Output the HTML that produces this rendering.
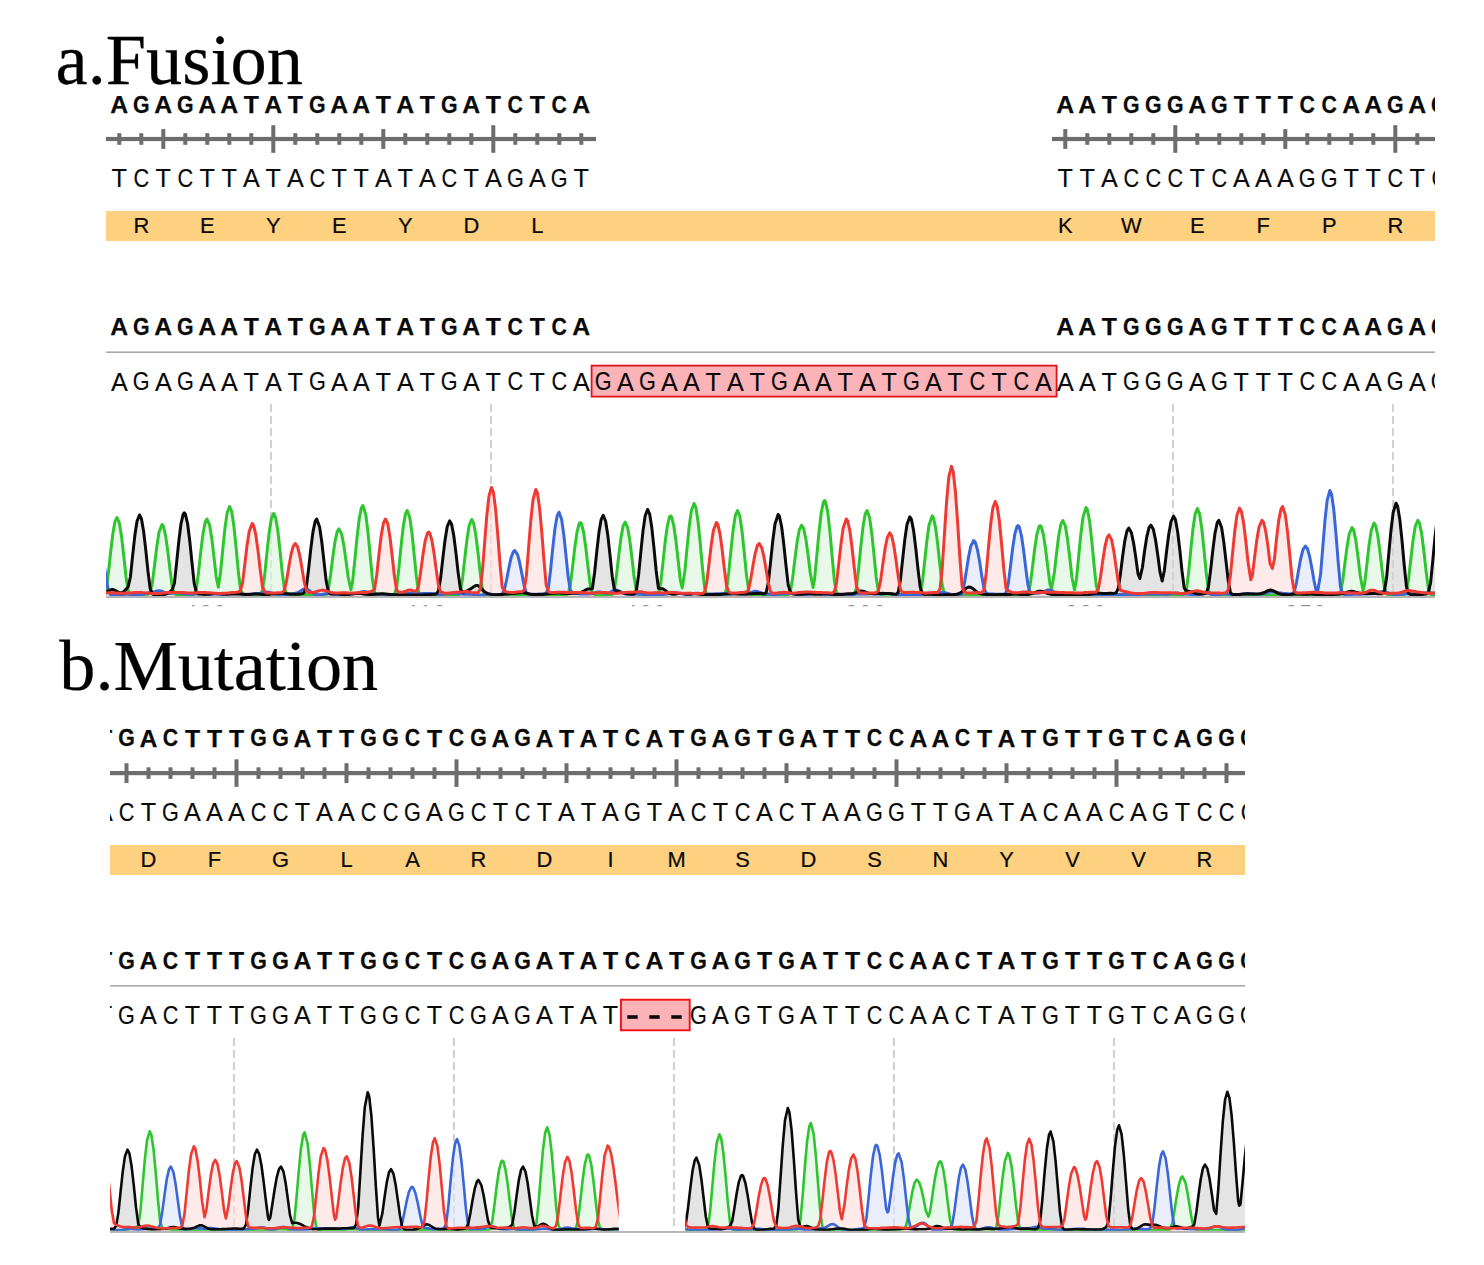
<!DOCTYPE html>
<html><head><meta charset="utf-8"><title>Sanger sequencing: fusion and mutation</title>
<style>
html,body{margin:0;padding:0;background:#fff;}
body{width:1484px;height:1265px;overflow:hidden;font-family:"Liberation Sans",sans-serif;}
svg{display:block;}
text{font-family:"Liberation Sans",sans-serif;fill:#0a0a0a;}
.ttl{font-family:"Liberation Serif",serif;font-size:71px;fill:#000;stroke:#000;stroke-width:.25px;}
.b{font-size:24.8px;font-weight:bold;text-anchor:middle;stroke:#0a0a0a;stroke-width:.25px;}
.n{font-size:25.2px;text-anchor:middle;stroke:#0a0a0a;stroke-width:.12px;}
.aa{font-size:21.9px;text-anchor:middle;stroke:#0a0a0a;stroke-width:.2px;}
.num{font-size:20px;text-anchor:middle;fill:#8a8a8a;letter-spacing:3px;}
</style></head><body>
<svg width="1484" height="1265" viewBox="0 0 1484 1265">
<defs>
<clipPath id="ca"><rect x="106" y="0" width="1329" height="606.2"/></clipPath>
<clipPath id="cat"><rect x="106" y="400" width="1329" height="196.2"/></clipPath>
<clipPath id="cb"><rect x="110" y="620" width="1135" height="640"/></clipPath>
<clipPath id="cbt"><rect x="110" y="1040" width="508.7" height="190.8"/><rect x="685.3" y="1040" width="559.7" height="190.8"/></clipPath>
</defs>
<text class="ttl" transform="translate(55.6,83.6) scale(1.02,1)">a.Fusion</text>
<g clip-path="url(#ca)">
<text class="b" x="119.3 163.3 207.3 229.3 251.3 273.3 295.3 339.3 361.3 383.3 405.3 427.3 471.3 493.3 537.3 581.3" y="112.8">AAAATATAATATATTA</text>
<text class="b" transform="scale(0.86,1)" x="164.3 215.5 369.0 522.4 599.2 650.3" y="112.8">GGGGCC</text>
<text class="b" x="1065.3 1087.3 1109.3 1197.3 1241.3 1263.3 1285.3 1351.3 1373.3 1417.3" y="112.8">AATATTTAAA</text>
<text class="b" transform="scale(0.86,1)" x="1315.5 1341.0 1366.6 1417.8 1520.1 1545.7 1622.4 1673.6" y="112.8">GGGGCCGG</text>
<rect x="106" y="136.9" width="490" height="4.2" fill="#6d6d6d"/>
<rect x="117.3" y="133.2" width="4" height="11.6" fill="#6d6d6d"/>
<rect x="139.3" y="133.2" width="4" height="11.6" fill="#6d6d6d"/>
<rect x="161.3" y="129.1" width="4" height="19.8" fill="#6d6d6d"/>
<rect x="183.3" y="133.2" width="4" height="11.6" fill="#6d6d6d"/>
<rect x="205.3" y="133.2" width="4" height="11.6" fill="#6d6d6d"/>
<rect x="227.3" y="133.2" width="4" height="11.6" fill="#6d6d6d"/>
<rect x="249.3" y="133.2" width="4" height="11.6" fill="#6d6d6d"/>
<rect x="271.3" y="125.2" width="4" height="27.6" fill="#6d6d6d"/>
<rect x="293.3" y="133.2" width="4" height="11.6" fill="#6d6d6d"/>
<rect x="315.3" y="133.2" width="4" height="11.6" fill="#6d6d6d"/>
<rect x="337.3" y="133.2" width="4" height="11.6" fill="#6d6d6d"/>
<rect x="359.3" y="133.2" width="4" height="11.6" fill="#6d6d6d"/>
<rect x="381.3" y="129.1" width="4" height="19.8" fill="#6d6d6d"/>
<rect x="403.3" y="133.2" width="4" height="11.6" fill="#6d6d6d"/>
<rect x="425.3" y="133.2" width="4" height="11.6" fill="#6d6d6d"/>
<rect x="447.3" y="133.2" width="4" height="11.6" fill="#6d6d6d"/>
<rect x="469.3" y="133.2" width="4" height="11.6" fill="#6d6d6d"/>
<rect x="491.3" y="125.2" width="4" height="27.6" fill="#6d6d6d"/>
<rect x="513.3" y="133.2" width="4" height="11.6" fill="#6d6d6d"/>
<rect x="535.3" y="133.2" width="4" height="11.6" fill="#6d6d6d"/>
<rect x="557.3" y="133.2" width="4" height="11.6" fill="#6d6d6d"/>
<rect x="579.3" y="133.2" width="4" height="11.6" fill="#6d6d6d"/>
<rect x="1052" y="136.9" width="388" height="4.2" fill="#6d6d6d"/>
<rect x="1063.3" y="129.1" width="4" height="19.8" fill="#6d6d6d"/>
<rect x="1085.3" y="133.2" width="4" height="11.6" fill="#6d6d6d"/>
<rect x="1107.3" y="133.2" width="4" height="11.6" fill="#6d6d6d"/>
<rect x="1129.3" y="133.2" width="4" height="11.6" fill="#6d6d6d"/>
<rect x="1151.3" y="133.2" width="4" height="11.6" fill="#6d6d6d"/>
<rect x="1173.3" y="125.2" width="4" height="27.6" fill="#6d6d6d"/>
<rect x="1195.3" y="133.2" width="4" height="11.6" fill="#6d6d6d"/>
<rect x="1217.3" y="133.2" width="4" height="11.6" fill="#6d6d6d"/>
<rect x="1239.3" y="133.2" width="4" height="11.6" fill="#6d6d6d"/>
<rect x="1261.3" y="133.2" width="4" height="11.6" fill="#6d6d6d"/>
<rect x="1283.3" y="129.1" width="4" height="19.8" fill="#6d6d6d"/>
<rect x="1305.3" y="133.2" width="4" height="11.6" fill="#6d6d6d"/>
<rect x="1327.3" y="133.2" width="4" height="11.6" fill="#6d6d6d"/>
<rect x="1349.3" y="133.2" width="4" height="11.6" fill="#6d6d6d"/>
<rect x="1371.3" y="133.2" width="4" height="11.6" fill="#6d6d6d"/>
<rect x="1393.3" y="125.2" width="4" height="27.6" fill="#6d6d6d"/>
<rect x="1415.3" y="133.2" width="4" height="11.6" fill="#6d6d6d"/>
<rect x="1437.3" y="133.2" width="4" height="11.6" fill="#6d6d6d"/>
<rect x="1459.3" y="133.2" width="4" height="11.6" fill="#6d6d6d"/>
<text class="n" x="119.3 163.3 207.3 229.3 251.3 273.3 295.3 339.3 361.3 383.3 405.3 427.3 471.3 493.3 537.3 581.3" y="187">TTTTATATTATATAAT</text>
<text class="n" transform="scale(0.86,1)" x="164.3 215.5 369.0 522.4 599.2 650.3" y="187">CCCCGG</text>
<text class="n" x="1065.3 1087.3 1109.3 1197.3 1241.3 1263.3 1285.3 1351.3 1373.3 1417.3" y="187">TTATAAATTT</text>
<text class="n" transform="scale(0.86,1)" x="1315.5 1341.0 1366.6 1417.8 1520.1 1545.7 1622.4 1673.6" y="187">CCCCGGCC</text>
<rect x="106" y="211" width="1340" height="30" fill="#fdd17f"/>
<text class="aa" x="141.3" y="232.9">R</text>
<text class="aa" x="207.3" y="232.9">E</text>
<text class="aa" x="273.3" y="232.9">Y</text>
<text class="aa" x="339.3" y="232.9">E</text>
<text class="aa" x="405.3" y="232.9">Y</text>
<text class="aa" x="471.3" y="232.9">D</text>
<text class="aa" x="537.3" y="232.9">L</text>
<text class="aa" x="1065.3" y="232.9">K</text>
<text class="aa" x="1131.3" y="232.9">W</text>
<text class="aa" x="1197.3" y="232.9">E</text>
<text class="aa" x="1263.3" y="232.9">F</text>
<text class="aa" x="1329.3" y="232.9">P</text>
<text class="aa" x="1395.3" y="232.9">R</text>
<text class="b" x="119.3 163.3 207.3 229.3 251.3 273.3 295.3 339.3 361.3 383.3 405.3 427.3 471.3 493.3 537.3 581.3" y="334.8">AAAATATAATATATTA</text>
<text class="b" transform="scale(0.86,1)" x="164.3 215.5 369.0 522.4 599.2 650.3" y="334.8">GGGGCC</text>
<text class="b" x="1065.3 1087.3 1109.3 1197.3 1241.3 1263.3 1285.3 1351.3 1373.3 1417.3" y="334.8">AATATTTAAA</text>
<text class="b" transform="scale(0.86,1)" x="1315.5 1341.0 1366.6 1417.8 1520.1 1545.7 1622.4 1673.6" y="334.8">GGGGCCGG</text>
<rect x="106" y="351.4" width="1340" height="1.6" fill="#a9a9a9"/>
<rect x="591.6" y="365.6" width="465" height="31" fill="#fbb3b8" stroke="#e01318" stroke-width="1.8"/>
<text class="n" x="119.3 163.3 207.3 229.3 251.3 273.3 295.3 339.3 361.3 383.3 405.3 427.3 471.3 493.3 537.3 581.3 625.3 669.3 691.3 713.3 735.3 757.3 801.3 823.3 845.3 867.3 889.3 933.3 955.3 999.3 1043.3 1065.3 1087.3 1109.3 1197.3 1241.3 1263.3 1285.3 1351.3 1373.3 1417.3" y="390.5">AAAATATAATATATTAAAATATAATATATTAAATATTTAAA</text>
<text class="n" transform="scale(0.86,1)" x="164.3 215.5 369.0 522.4 599.2 650.3 701.5 752.7 906.2 1059.7 1136.4 1187.6 1315.5 1341.0 1366.6 1417.8 1520.1 1545.7 1622.4 1673.6" y="390.5">GGGGCCGGGGCCGGGGCCGG</text>
<line x1="271" y1="404" x2="271" y2="596" stroke="#cbcbcb" stroke-width="1.8" stroke-dasharray="8 4"/>
<line x1="491" y1="404" x2="491" y2="596" stroke="#cbcbcb" stroke-width="1.8" stroke-dasharray="8 4"/>
<line x1="1173" y1="404" x2="1173" y2="596" stroke="#cbcbcb" stroke-width="1.8" stroke-dasharray="8 4"/>
<line x1="1393" y1="404" x2="1393" y2="596" stroke="#cbcbcb" stroke-width="1.8" stroke-dasharray="8 4"/>
</g>
<g clip-path="url(#cat)">
<defs>
<path id="catA" d="M60.0,595.1L62.2,595.0L64.4,595.0L66.6,595.0L68.8,595.1L71.0,595.2L73.2,595.2L75.4,595.2L77.6,595.1L79.8,595.1L82.0,595.0L84.2,594.9L86.4,594.8L88.6,594.7L90.8,594.7L93.0,594.7L95.2,594.7L97.4,594.7L99.6,594.7L101.8,594.8L104.0,594.2L106.2,589.4L108.4,573.1L110.6,552.4L112.8,533.9L115.0,521.4L117.0,517.5L119.4,523.1L121.6,536.9L123.8,556.2L126.0,576.7L128.2,591.1L130.4,594.7L132.6,595.0L134.8,595.0L137.0,594.8L139.2,594.6L141.4,594.5L143.6,594.4L145.8,594.2L148.0,594.2L150.2,592.5L152.4,582.7L154.6,564.7L156.8,546.5L159.0,532.3L162.0,524.5L163.4,526.2L165.6,535.6L167.8,551.2L170.0,569.9L172.2,586.6L174.4,593.6L176.6,595.0L178.8,595.2L181.0,595.3L183.2,595.4L185.4,595.4L187.6,595.3L189.8,595.2L192.0,595.1L194.2,594.3L196.4,588.5L198.6,571.7L200.8,551.4L203.0,533.6L205.2,522.1L207.0,519.0L209.6,525.1L211.8,538.6L214.0,557.1L216.2,576.7L218.3,587.3L220.6,572.0L222.8,549.0L225.0,527.7L227.2,512.6L229.6,506.5L231.6,511.0L233.8,525.2L236.0,546.5L238.2,570.2L240.4,588.9L242.6,594.5L244.8,595.1L247.0,594.9L249.2,594.7L251.4,594.7L253.6,594.7L255.8,594.8L258.0,594.9L260.2,594.8L262.4,591.1L264.6,575.8L266.8,554.2L269.0,533.9L271.2,519.4L273.6,513.5L275.6,517.6L277.8,530.7L280.0,550.3L282.2,572.0L284.4,588.9L286.6,593.1L288.8,593.7L291.0,593.9L293.2,594.0L295.4,594.3L297.6,594.5L299.8,594.7L302.0,594.8L304.2,594.9L306.4,594.8L308.6,594.8L310.8,594.8L313.0,594.7L315.2,594.7L317.4,594.7L319.6,594.8L321.8,594.9L324.0,595.0L326.2,594.3L328.4,589.2L330.6,574.5L332.8,557.0L335.0,541.6L337.2,531.6L339.0,528.9L341.6,533.9L343.8,545.1L346.0,560.6L348.2,577.2L350.9,589.6L352.6,581.6L354.8,560.2L357.0,537.7L359.2,519.0L361.4,507.8L362.9,505.5L365.8,514.8L368.0,532.6L370.2,555.8L372.4,579.0L374.6,592.6L376.8,594.9L379.0,594.9L381.2,595.0L383.4,595.0L385.6,595.1L387.8,595.2L390.0,595.3L392.2,595.3L394.4,594.4L396.6,588.0L398.8,569.2L401.0,546.7L403.2,526.8L405.4,514.0L407.2,510.5L409.8,517.6L412.0,533.4L414.2,554.8L416.4,577.0L418.6,591.9L420.8,594.8L423.0,595.0L425.2,595.1L427.4,595.1L429.6,595.2L431.8,595.3L434.0,595.3L436.2,595.3L438.4,595.3L440.6,595.3L442.8,595.3L445.0,595.2L447.2,595.2L449.4,595.2L451.6,595.3L453.8,595.3L456.0,595.4L458.2,595.2L460.4,592.1L462.6,577.9L464.8,558.1L467.0,539.1L469.2,525.4L471.7,519.5L473.6,522.9L475.8,534.7L478.0,552.6L480.2,572.7L482.4,589.1L484.6,594.4L486.8,595.0L489.0,594.8L491.2,594.7L493.4,594.7L495.6,594.8L497.8,594.9L500.0,594.9L502.2,594.9L504.4,594.9L506.6,594.9L508.8,594.9L511.0,594.9L513.2,594.9L515.4,594.9L517.6,594.9L519.8,594.9L522.0,594.9L524.2,594.9L526.4,594.9L528.6,595.0L530.8,595.0L533.0,595.1L535.2,595.1L537.4,595.1L539.6,595.1L541.8,595.0L544.0,595.0L546.2,595.0L548.4,595.1L550.6,595.2L552.8,595.2L555.0,595.2L557.2,595.1L559.4,595.1L561.6,595.1L563.8,595.1L566.0,595.2L568.2,593.7L570.4,584.5L572.6,566.6L574.8,547.5L577.0,532.2L579.2,523.6L580.3,522.5L581.4,523.6L583.6,532.2L585.8,547.5L588.0,566.6L590.2,584.5L592.4,593.0L594.6,594.6L596.8,594.7L599.0,594.8L601.2,594.8L603.4,595.0L605.6,595.1L607.8,595.2L610.0,595.2L612.2,594.5L614.4,589.7L616.6,574.3L618.8,554.9L621.0,537.5L623.2,525.8L625.2,522.1L627.6,527.3L629.8,540.3L632.0,558.4L634.2,577.6L636.4,591.2L638.6,594.3L640.8,594.3L643.0,594.3L645.2,594.4L647.4,594.6L649.6,594.9L651.8,595.2L654.0,595.3L656.2,595.5L658.4,593.8L660.6,583.8L662.8,564.1L665.0,543.3L667.2,526.5L669.4,517.1L670.5,515.9L671.6,517.0L673.8,525.6L676.0,541.3L678.2,561.0L680.4,580.5L682.2,588.0L684.8,571.7L687.0,548.3L689.2,526.5L691.4,510.6L694.0,503.5L695.8,507.2L698.0,521.2L700.2,542.7L702.4,567.2L704.6,587.6L706.8,594.2L709.0,595.3L711.2,595.3L713.4,595.2L715.6,595.1L717.8,594.9L720.0,594.8L722.2,594.8L724.4,594.2L726.6,589.5L728.8,572.2L731.0,549.7L733.2,529.2L735.4,515.2L737.5,510.5L739.8,516.1L742.0,530.8L744.2,551.7L746.4,574.2L748.6,590.4L750.8,594.8L753.0,595.2L755.2,595.1L757.4,594.9L759.6,594.8L761.8,594.7L764.0,594.7L766.2,594.6L768.4,594.4L770.6,594.2L772.8,594.1L775.0,594.2L777.2,594.4L779.4,594.6L781.6,594.9L783.8,595.0L786.0,595.0L788.2,594.7L790.4,591.4L792.6,578.3L794.8,559.9L797.0,542.6L799.2,530.2L801.6,525.2L803.6,528.4L805.8,538.8L808.0,554.4L810.2,572.2L813.1,587.6L814.6,578.9L816.8,555.7L819.0,532.0L821.2,512.9L823.4,502.1L824.6,500.5L825.6,501.7L827.8,512.4L830.0,532.3L832.2,557.2L834.4,581.0L836.6,593.0L838.8,595.1L841.0,595.1L843.2,595.2L845.4,595.3L847.6,595.3L849.8,595.4L852.0,595.4L854.2,594.4L856.4,588.0L858.6,569.2L860.8,546.7L863.0,526.8L865.2,514.0L867.0,510.5L869.6,517.6L871.8,533.4L874.0,554.8L876.2,577.0L878.4,591.7L880.6,594.5L882.8,594.4L885.0,594.3L887.2,594.2L889.4,594.2L891.6,594.4L893.8,594.7L896.0,594.9L898.2,595.1L900.4,595.3L902.6,595.4L904.8,595.4L907.0,595.3L909.2,595.2L911.4,595.1L913.6,595.0L915.8,594.9L918.0,594.8L920.2,592.9L922.4,582.2L924.6,562.2L926.8,541.5L929.0,525.3L932.1,515.9L933.4,517.6L935.6,527.7L937.8,545.1L940.0,566.0L942.2,585.2L944.4,593.7L946.6,595.2L948.8,595.3L951.0,595.3L953.2,595.4L955.4,595.4L957.6,595.4L959.8,595.4L962.0,595.5L964.2,595.5L966.4,595.5L968.6,595.4L970.8,595.2L973.0,595.0L975.2,594.9L977.4,594.8L979.6,594.8L981.8,594.9L984.0,595.0L986.2,595.1L988.4,595.2L990.6,595.3L992.8,595.4L995.0,595.3L997.2,595.3L999.4,595.3L1001.6,595.3L1003.8,595.4L1006.0,595.4L1008.2,595.5L1010.4,595.5L1012.6,595.5L1014.8,595.4L1017.0,595.3L1019.2,595.2L1021.4,595.1L1023.6,595.0L1025.8,594.9L1028.0,593.4L1030.2,584.9L1032.4,567.7L1034.6,549.5L1036.8,534.7L1039.0,526.6L1040.1,525.5L1041.2,526.5L1043.4,534.6L1045.6,549.1L1047.8,567.1L1050.0,584.3L1051.5,588.9L1054.4,572.4L1056.6,552.7L1058.8,535.3L1061.0,523.8L1062.9,520.5L1065.4,526.2L1067.6,539.6L1069.8,558.0L1072.0,577.5L1074.5,590.0L1076.4,579.4L1078.6,557.0L1080.8,534.5L1083.0,517.1L1086.0,507.5L1087.4,509.7L1089.6,521.3L1091.8,540.9L1094.0,564.2L1096.2,585.1L1098.4,593.7L1100.6,595.0L1102.8,594.9L1105.0,594.8L1107.2,594.8L1109.4,594.9L1111.6,595.0L1113.8,595.0L1116.0,594.9L1118.2,594.8L1120.4,594.8L1122.6,594.7L1124.8,594.8L1127.0,594.9L1129.2,595.0L1131.4,595.2L1133.6,595.2L1135.8,595.3L1138.0,595.2L1140.2,595.1L1142.4,595.0L1144.6,594.9L1146.8,594.8L1149.0,594.8L1151.2,594.8L1153.4,594.9L1155.6,595.0L1157.8,595.1L1160.0,595.2L1162.2,595.3L1164.4,595.4L1166.6,595.4L1168.8,595.4L1171.0,595.2L1173.2,595.0L1175.4,594.9L1177.6,594.9L1179.8,595.0L1182.0,595.0L1184.2,594.4L1186.4,589.9L1188.6,572.7L1190.8,549.7L1193.0,528.5L1195.2,513.8L1197.4,508.5L1199.6,513.8L1201.8,528.5L1204.0,549.7L1206.2,572.7L1208.4,589.9L1210.6,594.3L1212.8,594.6L1215.0,594.5L1217.2,594.5L1219.4,594.5L1221.6,594.7L1223.8,594.8L1226.0,594.9L1228.2,595.0L1230.4,595.1L1232.6,595.1L1234.8,595.1L1237.0,595.0L1239.2,595.0L1241.4,595.0L1243.6,595.1L1245.8,595.2L1248.0,595.3L1250.2,595.3L1252.4,595.2L1254.6,595.1L1256.8,595.1L1259.0,595.2L1261.2,595.2L1263.4,595.1L1265.6,595.1L1267.8,595.0L1270.0,594.9L1272.2,594.9L1274.4,595.0L1276.6,595.1L1278.8,595.2L1281.0,595.2L1283.2,595.1L1285.4,595.0L1287.6,594.8L1289.8,594.8L1292.0,594.8L1294.2,594.8L1296.4,594.8L1298.6,594.7L1300.8,594.7L1303.0,594.7L1305.2,594.8L1307.4,594.9L1309.6,595.0L1311.8,595.2L1314.0,595.3L1316.2,595.3L1318.4,595.4L1320.6,595.4L1322.8,595.4L1325.0,595.4L1327.2,595.3L1329.4,595.2L1331.6,595.1L1333.8,594.9L1336.0,594.8L1338.2,594.7L1340.4,592.8L1342.6,581.7L1344.8,564.3L1347.0,547.1L1349.2,534.0L1352.0,527.5L1353.6,529.9L1355.8,540.3L1358.0,556.8L1360.2,575.5L1363.0,590.6L1364.6,584.1L1366.8,565.2L1369.0,545.7L1371.2,530.6L1374.0,523.0L1375.6,525.3L1377.8,535.6L1380.0,552.0L1382.2,571.1L1384.4,587.7L1386.6,594.0L1388.8,595.2L1391.0,595.3L1393.2,595.4L1395.4,595.4L1397.6,595.3L1399.8,595.2L1402.0,594.9L1404.2,594.5L1406.4,591.8L1408.6,578.9L1410.8,559.4L1413.0,540.5L1415.2,526.6L1417.8,520.3L1419.6,523.3L1421.8,534.7L1424.0,552.2L1426.2,572.1L1428.4,588.6L1430.6,594.4L1432.8,595.3L1435.0,595.3L1437.2,595.2L1439.4,595.2L1441.6,595.2L1443.8,595.1L1446.0,595.1L1448.2,595.1L1450.4,595.2L1452.6,595.3L1454.8,595.3L1457.0,595.3L1459.2,595.2L1461.4,595.0L1463.6,594.9L1465.8,594.9L1468.0,594.9L1470.2,595.0L1472.4,595.0L1474.6,595.0L1476.8,595.0L1479.0,595.1L1479,605 L60,605Z"/>
<path id="catC" d="M60.0,595.2L62.2,595.1L64.4,595.0L66.6,594.7L68.8,594.3L71.0,593.9L73.2,593.4L75.4,592.8L77.6,592.2L79.8,591.7L82.0,591.7L84.2,592.1L86.4,590.6L88.6,580.1L90.8,564.7L93.0,550.4L95.2,540.3L97.5,536.5L99.6,539.7L101.8,549.3L104.0,563.3L106.2,578.8L108.4,590.8L110.6,594.7L112.8,595.3L115.0,595.3L117.2,595.2L119.4,594.9L121.6,594.7L123.8,594.4L126.0,594.2L128.2,594.1L130.4,594.4L132.6,594.7L134.8,595.0L137.0,595.1L139.2,594.9L141.4,594.6L143.6,594.0L145.8,593.5L148.0,593.0L150.2,592.6L152.4,592.2L154.6,591.6L156.8,591.0L159.0,590.7L161.2,591.0L163.4,591.9L165.6,592.9L167.8,593.5L170.0,593.5L172.2,593.2L174.4,592.8L176.6,592.6L178.8,592.8L181.0,593.2L183.2,593.6L185.4,593.9L187.6,594.1L189.8,594.2L192.0,594.2L194.2,594.1L196.4,593.9L198.6,593.7L200.8,593.8L203.0,594.1L205.2,594.4L207.4,594.7L209.6,594.6L211.8,594.3L214.0,594.0L216.2,593.9L218.4,594.2L220.6,594.6L222.8,594.9L225.0,594.9L227.2,594.6L229.4,594.1L231.6,593.7L233.8,593.6L236.0,593.6L238.2,593.7L240.4,593.9L242.6,594.0L244.8,594.2L247.0,594.3L249.2,594.3L251.4,594.2L253.6,594.0L255.8,593.8L258.0,593.6L260.2,593.2L262.4,592.7L264.6,592.2L266.8,592.0L269.0,592.3L271.2,592.9L273.4,593.6L275.6,594.2L277.8,594.7L280.0,594.9L282.2,594.9L284.4,594.7L286.6,594.5L288.8,594.2L291.0,593.9L293.2,593.6L295.4,593.2L297.6,592.6L299.8,591.5L302.0,590.1L304.2,588.9L306.4,588.9L308.6,590.0L310.8,591.8L313.0,593.4L315.2,594.3L317.4,594.7L319.6,594.7L321.8,594.5L324.0,594.1L326.2,593.8L328.4,593.7L330.6,593.8L332.8,594.1L335.0,594.5L337.2,594.8L339.4,595.0L341.6,595.2L343.8,595.1L346.0,594.9L348.2,594.6L350.4,594.2L352.6,593.9L354.8,593.7L357.0,593.3L359.2,592.6L361.4,591.9L363.6,591.6L365.8,591.8L368.0,592.5L370.2,593.2L372.4,593.8L374.6,594.1L376.8,594.3L379.0,594.3L381.2,594.3L383.4,594.3L385.6,594.4L387.8,594.4L390.0,594.5L392.2,594.5L394.4,594.6L396.6,594.7L398.8,594.6L401.0,594.5L403.2,594.2L405.4,593.8L407.6,593.6L409.8,593.5L412.0,593.6L414.2,593.7L416.4,593.7L418.6,593.7L420.8,593.7L423.0,593.6L425.2,593.5L427.4,593.4L429.6,593.4L431.8,593.5L434.0,593.8L436.2,594.1L438.4,594.4L440.6,594.5L442.8,594.3L445.0,593.9L447.2,593.6L449.4,593.4L451.6,593.3L453.8,593.3L456.0,593.5L458.2,593.6L460.4,593.9L462.6,594.0L464.8,594.2L467.0,594.2L469.2,594.2L471.4,594.3L473.6,594.4L475.8,594.7L478.0,594.9L480.2,594.9L482.4,594.7L484.6,594.4L486.8,594.1L489.0,594.1L491.2,594.3L493.4,594.6L495.6,594.8L497.8,594.8L500.0,594.7L502.2,593.9L504.4,589.8L506.6,579.7L508.8,568.1L511.0,558.1L513.2,551.9L514.8,550.5L517.6,554.7L519.8,563.2L522.0,574.4L524.2,585.7L526.4,593.1L528.6,594.2L530.8,594.2L533.0,594.2L535.2,594.2L537.4,594.2L539.6,594.1L541.8,594.0L544.0,593.9L546.2,593.0L548.4,587.9L550.6,569.7L552.8,547.6L555.0,528.2L557.2,515.6L559.0,512.2L561.6,519.2L563.8,534.6L566.0,555.6L568.2,577.3L570.4,590.4L572.6,592.6L574.8,593.0L577.0,593.4L579.2,593.7L581.4,593.9L583.6,594.0L585.8,594.0L588.0,593.9L590.2,593.7L592.4,593.4L594.6,592.9L596.8,592.3L599.0,592.1L601.2,592.3L603.4,592.8L605.6,593.2L607.8,593.1L610.0,592.4L612.2,591.2L614.4,590.2L616.6,590.0L618.8,590.8L621.0,592.1L623.2,593.3L625.4,593.9L627.6,594.2L629.8,594.2L632.0,594.2L634.2,594.1L636.4,594.0L638.6,594.0L640.8,594.1L643.0,594.4L645.2,594.8L647.4,595.0L649.6,595.0L651.8,594.9L654.0,594.8L656.2,594.7L658.4,594.7L660.6,594.7L662.8,594.6L665.0,594.3L667.2,593.9L669.4,593.6L671.6,593.3L673.8,593.1L676.0,592.9L678.2,592.9L680.4,593.3L682.6,593.9L684.8,594.4L687.0,594.6L689.2,594.4L691.4,594.0L693.6,593.5L695.8,593.2L698.0,593.3L700.2,593.6L702.4,593.9L704.6,594.1L706.8,594.2L709.0,594.1L711.2,594.1L713.4,594.0L715.6,593.8L717.8,593.7L720.0,593.7L722.2,593.7L724.4,593.9L726.6,594.1L728.8,594.0L731.0,593.9L733.2,593.7L735.4,593.6L737.6,593.7L739.8,593.9L742.0,594.1L744.2,594.2L746.4,594.0L748.6,593.4L750.8,592.6L753.0,591.8L755.2,591.3L757.4,591.5L759.6,592.3L761.8,593.0L764.0,593.6L766.2,593.9L768.4,594.1L770.6,594.3L772.8,594.5L775.0,594.6L777.2,594.4L779.4,594.1L781.6,593.7L783.8,593.5L786.0,593.4L788.2,593.4L790.4,593.6L792.6,593.8L794.8,594.2L797.0,594.6L799.2,594.8L801.4,594.9L803.6,594.7L805.8,594.5L808.0,594.2L810.2,593.9L812.4,593.6L814.6,593.5L816.8,593.6L819.0,594.0L821.2,594.5L823.4,595.0L825.6,595.2L827.8,595.1L830.0,595.0L832.2,594.7L834.4,594.5L836.6,594.2L838.8,594.1L841.0,594.2L843.2,594.5L845.4,594.8L847.6,595.0L849.8,594.9L852.0,594.6L854.2,594.2L856.4,593.9L858.6,593.9L860.8,593.9L863.0,594.0L865.2,594.0L867.4,593.9L869.6,593.8L871.8,593.8L874.0,593.9L876.2,593.9L878.4,594.0L880.6,593.9L882.8,593.8L885.0,593.6L887.2,593.5L889.4,593.6L891.6,593.9L893.8,594.2L896.0,594.4L898.2,594.5L900.4,594.4L902.6,594.3L904.8,594.4L907.0,594.7L909.2,594.9L911.4,595.1L913.6,595.0L915.8,594.8L918.0,594.6L920.2,594.4L922.4,594.3L924.6,594.3L926.8,594.3L929.0,594.2L931.2,593.9L933.4,593.5L935.6,593.2L937.8,593.0L940.0,592.8L942.2,592.6L944.4,592.7L946.6,593.1L948.8,593.7L951.0,594.4L953.2,595.0L955.4,595.2L957.6,595.4L959.8,595.4L962.0,593.8L964.2,584.6L966.4,570.7L968.6,556.8L970.8,546.1L973.7,540.5L975.2,542.0L977.4,549.5L979.6,561.6L981.8,575.9L984.0,588.4L986.2,593.2L988.4,594.0L990.6,594.1L992.8,594.1L995.0,594.2L997.2,594.2L999.4,594.2L1001.6,594.3L1003.8,594.3L1006.0,592.9L1008.2,584.2L1010.4,566.9L1012.6,548.7L1014.8,534.2L1017.0,526.4L1018.0,525.5L1019.2,526.8L1021.4,535.3L1023.6,550.3L1025.8,568.5L1028.0,585.4L1030.2,592.3L1032.4,593.2L1034.6,593.2L1036.8,593.2L1039.0,593.1L1041.2,592.6L1043.4,591.8L1045.6,590.8L1047.8,589.9L1050.0,589.9L1052.2,590.8L1054.4,592.1L1056.6,593.2L1058.8,593.8L1061.0,593.8L1063.2,593.6L1065.4,593.6L1067.6,593.8L1069.8,594.1L1072.0,594.3L1074.2,594.3L1076.4,594.2L1078.6,594.2L1080.8,594.2L1083.0,594.4L1085.2,594.7L1087.4,594.8L1089.6,594.9L1091.8,594.9L1094.0,594.8L1096.2,594.8L1098.4,594.7L1100.6,594.7L1102.8,594.7L1105.0,594.7L1107.2,594.6L1109.4,594.5L1111.6,594.4L1113.8,594.3L1116.0,594.3L1118.2,594.5L1120.4,594.6L1122.6,594.6L1124.8,594.4L1127.0,594.3L1129.2,594.3L1131.4,594.5L1133.6,594.7L1135.8,594.8L1138.0,594.8L1140.2,594.6L1142.4,594.3L1144.6,594.1L1146.8,594.0L1149.0,594.0L1151.2,594.0L1153.4,593.9L1155.6,593.9L1157.8,593.9L1160.0,593.9L1162.2,594.1L1164.4,594.2L1166.6,594.2L1168.8,594.0L1171.0,593.5L1173.2,593.2L1175.4,593.1L1177.6,593.3L1179.8,593.5L1182.0,593.7L1184.2,593.8L1186.4,593.9L1188.6,594.2L1190.8,594.4L1193.0,594.5L1195.2,594.6L1197.4,594.5L1199.6,594.3L1201.8,593.9L1204.0,593.6L1206.2,593.5L1208.4,593.6L1210.6,594.0L1212.8,594.5L1215.0,594.9L1217.2,594.9L1219.4,594.5L1221.6,594.1L1223.8,593.8L1226.0,593.8L1228.2,594.1L1230.4,594.4L1232.6,594.6L1234.8,594.7L1237.0,594.7L1239.2,594.5L1241.4,594.2L1243.6,593.9L1245.8,593.6L1248.0,593.4L1250.2,593.5L1252.4,593.8L1254.6,594.1L1256.8,594.2L1259.0,594.1L1261.2,593.9L1263.4,593.5L1265.6,593.0L1267.8,592.3L1270.0,591.7L1272.2,591.4L1274.4,591.7L1276.6,592.2L1278.8,592.8L1281.0,593.1L1283.2,593.4L1285.4,593.5L1287.6,593.7L1289.8,593.9L1292.0,593.9L1294.2,591.9L1296.4,582.8L1298.6,570.1L1300.8,558.1L1303.0,549.6L1305.4,546.1L1307.4,548.5L1309.6,556.3L1311.8,567.8L1314.0,580.6L1316.2,590.8L1317.7,591.0L1320.6,574.3L1322.8,546.9L1325.0,520.1L1327.2,500.0L1329.9,490.5L1331.6,494.3L1333.8,509.8L1336.0,534.2L1338.2,562.2L1340.4,586.1L1342.6,593.6L1344.8,594.8L1347.0,594.7L1349.2,594.6L1351.4,594.4L1353.6,594.3L1355.8,594.3L1358.0,594.2L1360.2,594.2L1362.4,594.1L1364.6,594.0L1366.8,593.9L1369.0,593.8L1371.2,593.7L1373.4,593.5L1375.6,593.2L1377.8,592.6L1380.0,592.0L1382.2,591.5L1384.4,591.6L1386.6,592.3L1388.8,593.1L1391.0,593.8L1393.2,594.2L1395.4,594.4L1397.6,594.4L1399.8,594.3L1402.0,594.1L1404.2,593.9L1406.4,593.7L1408.6,593.7L1410.8,593.8L1413.0,594.0L1415.2,594.1L1417.4,593.8L1419.6,593.5L1421.8,593.1L1424.0,592.9L1426.2,593.0L1428.4,593.0L1430.6,593.1L1432.8,593.1L1435.0,593.1L1437.2,593.2L1439.4,593.3L1441.6,593.4L1443.8,593.7L1446.0,593.9L1448.2,594.1L1450.4,594.3L1452.6,594.5L1454.8,594.6L1457.0,594.6L1459.2,594.4L1461.4,594.3L1463.6,594.1L1465.8,594.0L1468.0,593.9L1470.2,593.9L1472.4,593.9L1474.6,594.0L1476.8,594.2L1479.0,594.5L1479,605 L60,605Z"/>
<path id="catG" d="M60.0,592.7L62.2,591.5L64.4,590.4L66.6,590.1L68.8,590.7L71.0,591.6L73.2,592.0L75.4,591.6L77.6,590.4L79.8,589.0L82.0,587.5L84.2,586.3L86.4,586.2L88.6,587.5L90.8,589.8L93.0,592.1L95.2,593.6L97.4,594.3L99.6,594.4L101.8,594.1L104.0,593.4L106.2,592.4L108.4,591.1L110.6,589.8L112.8,589.4L115.0,590.3L117.2,591.6L119.4,592.7L121.6,592.8L123.8,591.6L126.0,589.4L128.2,586.6L130.4,577.0L132.6,555.9L134.8,535.8L137.0,521.2L139.5,515.0L141.4,518.6L143.6,531.2L145.8,550.1L148.0,571.5L150.2,588.7L152.4,594.0L154.6,594.7L156.8,594.8L159.0,594.8L161.2,594.8L163.4,594.7L165.6,594.2L167.8,593.1L170.0,591.7L172.2,589.9L174.4,583.3L176.6,562.9L178.8,541.3L181.0,523.8L183.2,514.1L184.3,512.8L185.4,514.1L187.6,523.8L189.8,541.3L192.0,562.9L194.2,583.3L196.4,592.2L198.6,593.9L200.8,594.1L203.0,594.2L205.2,594.2L207.4,594.1L209.6,594.0L211.8,593.8L214.0,593.6L216.2,593.5L218.4,593.6L220.6,593.7L222.8,593.9L225.0,594.0L227.2,594.0L229.4,594.0L231.6,594.0L233.8,593.9L236.0,593.9L238.2,593.9L240.4,594.0L242.6,594.2L244.8,594.5L247.0,594.6L249.2,594.6L251.4,594.3L253.6,594.0L255.8,593.8L258.0,593.9L260.2,594.2L262.4,594.5L264.6,594.6L266.8,594.6L269.0,594.4L271.2,594.1L273.4,593.9L275.6,593.6L277.8,593.5L280.0,593.4L282.2,593.4L284.4,593.6L286.6,593.8L288.8,594.0L291.0,594.2L293.2,594.3L295.4,594.3L297.6,594.2L299.8,594.0L302.0,593.8L304.2,592.7L306.4,586.6L308.6,569.0L310.8,548.8L313.0,531.6L315.2,521.2L316.7,519.0L319.6,526.9L321.8,542.0L324.0,561.5L326.2,581.1L328.4,592.0L330.6,594.0L332.8,593.9L335.0,593.8L337.2,593.8L339.4,594.1L341.6,594.5L343.8,594.7L346.0,594.7L348.2,594.4L350.4,594.1L352.6,593.8L354.8,593.6L357.0,593.5L359.2,593.5L361.4,593.6L363.6,594.0L365.8,594.3L368.0,594.5L370.2,594.5L372.4,594.4L374.6,594.2L376.8,594.0L379.0,593.9L381.2,593.8L383.4,593.8L385.6,594.0L387.8,594.2L390.0,594.5L392.2,594.7L394.4,594.7L396.6,594.7L398.8,594.7L401.0,594.8L403.2,594.8L405.4,594.9L407.6,595.0L409.8,595.0L412.0,594.9L414.2,594.9L416.4,594.9L418.6,594.9L420.8,594.9L423.0,594.9L425.2,594.8L427.4,594.8L429.6,594.7L431.8,594.5L434.0,594.3L436.2,593.9L438.4,591.1L440.6,578.2L442.8,558.7L445.0,540.2L447.2,526.7L449.7,520.9L451.6,524.3L453.8,535.8L456.0,553.4L458.2,573.1L460.4,588.7L462.6,592.2L464.8,591.8L467.0,590.8L469.2,589.7L471.4,588.4L473.6,586.8L475.8,585.6L478.0,585.6L480.2,587.2L482.4,589.7L484.6,591.8L486.8,593.2L489.0,593.9L491.2,594.4L493.4,594.7L495.6,594.8L497.8,594.8L500.0,594.6L502.2,594.4L504.4,594.1L506.6,593.9L508.8,593.7L511.0,593.5L513.2,593.4L515.4,593.3L517.6,593.1L519.8,592.8L522.0,592.6L524.2,592.7L526.4,593.2L528.6,593.8L530.8,594.2L533.0,594.5L535.2,594.5L537.4,594.5L539.6,594.5L541.8,594.4L544.0,594.2L546.2,594.0L548.4,593.7L550.6,593.5L552.8,593.3L555.0,593.2L557.2,593.1L559.4,593.1L561.6,593.2L563.8,593.3L566.0,593.4L568.2,593.4L570.4,593.4L572.6,593.3L574.8,593.2L577.0,593.1L579.2,592.8L581.4,592.2L583.6,591.2L585.8,589.8L588.0,588.9L590.2,589.1L592.4,588.5L594.6,572.5L596.8,551.3L599.0,532.1L601.2,519.3L603.2,515.3L605.6,521.0L607.8,535.2L610.0,555.1L612.2,576.2L614.4,589.7L616.6,591.3L618.8,591.6L621.0,592.2L623.2,592.9L625.4,593.4L627.6,593.8L629.8,594.0L632.0,594.2L634.2,594.1L636.4,590.5L638.6,574.9L640.8,552.3L643.0,530.9L645.2,515.7L647.6,509.5L649.6,513.8L651.8,527.6L654.0,548.1L656.2,571.0L658.4,588.2L660.6,588.7L662.8,588.8L665.0,590.2L667.2,592.0L669.4,593.4L671.6,594.1L673.8,594.2L676.0,594.0L678.2,593.6L680.4,593.5L682.6,593.6L684.8,593.8L687.0,594.0L689.2,594.1L691.4,593.9L693.6,593.8L695.8,593.8L698.0,594.0L700.2,594.3L702.4,594.7L704.6,594.8L706.8,594.8L709.0,594.6L711.2,594.4L713.4,594.4L715.6,594.4L717.8,594.5L720.0,594.5L722.2,594.3L724.4,594.1L726.6,593.9L728.8,593.8L731.0,593.7L733.2,593.7L735.4,593.8L737.6,593.9L739.8,593.9L742.0,594.0L744.2,594.1L746.4,594.0L748.6,593.9L750.8,593.7L753.0,593.6L755.2,593.4L757.4,593.3L759.6,593.4L761.8,593.6L764.0,594.0L766.2,592.5L768.4,582.0L770.6,561.6L772.8,540.6L775.0,524.0L778.1,514.5L779.4,516.2L781.6,526.5L783.8,544.2L786.0,565.5L788.2,584.9L790.4,592.3L792.6,593.8L794.8,594.1L797.0,594.3L799.2,594.3L801.4,594.2L803.6,594.0L805.8,593.7L808.0,593.6L810.2,593.7L812.4,594.0L814.6,594.2L816.8,594.3L819.0,594.1L821.2,593.9L823.4,593.7L825.6,593.6L827.8,593.8L830.0,594.0L832.2,594.2L834.4,594.4L836.6,594.5L838.8,594.6L841.0,594.5L843.2,594.2L845.4,593.9L847.6,593.8L849.8,593.7L852.0,593.7L854.2,593.3L856.4,592.4L858.6,591.5L860.8,590.9L863.0,591.2L865.2,592.0L867.4,592.8L869.6,593.4L871.8,593.6L874.0,593.7L876.2,593.6L878.4,593.4L880.6,593.4L882.8,593.3L885.0,593.4L887.2,593.5L889.4,593.6L891.6,593.8L893.8,594.1L896.0,594.3L898.2,592.3L900.4,579.9L902.6,559.7L904.8,539.6L907.0,524.4L909.8,516.8L911.4,519.3L913.6,530.5L915.8,548.4L918.0,569.2L920.2,587.2L922.4,593.6L924.6,594.4L926.8,594.2L929.0,594.1L931.2,594.3L933.4,594.6L935.6,594.8L937.8,594.9L940.0,594.9L942.2,594.9L944.4,594.8L946.6,594.8L948.8,594.7L951.0,594.7L953.2,594.6L955.4,594.4L957.6,594.0L959.8,593.2L962.0,591.8L964.2,590.0L966.4,588.1L968.6,587.0L970.8,587.2L973.0,588.7L975.2,590.6L977.4,592.3L979.6,593.4L981.8,593.9L984.0,594.2L986.2,594.4L988.4,594.6L990.6,594.7L992.8,594.8L995.0,594.8L997.2,594.7L999.4,594.6L1001.6,594.6L1003.8,594.6L1006.0,594.6L1008.2,594.5L1010.4,594.4L1012.6,594.1L1014.8,594.0L1017.0,594.0L1019.2,594.3L1021.4,594.6L1023.6,594.8L1025.8,594.7L1028.0,594.4L1030.2,594.0L1032.4,593.4L1034.6,592.6L1036.8,591.8L1039.0,591.2L1041.2,591.2L1043.4,591.8L1045.6,592.7L1047.8,593.6L1050.0,594.1L1052.2,594.5L1054.4,594.8L1056.6,594.9L1058.8,594.9L1061.0,594.8L1063.2,594.7L1065.4,594.7L1067.6,594.7L1069.8,594.7L1072.0,594.7L1074.2,594.7L1076.4,594.6L1078.6,594.6L1080.8,594.6L1083.0,594.6L1085.2,594.6L1087.4,594.5L1089.6,594.2L1091.8,593.9L1094.0,593.5L1096.2,593.3L1098.4,593.2L1100.6,593.3L1102.8,593.4L1105.0,593.4L1107.2,593.4L1109.4,593.3L1111.6,593.3L1113.8,593.4L1116.0,592.9L1118.2,588.8L1120.4,574.3L1122.6,556.5L1124.8,540.9L1127.0,530.8L1128.8,528.1L1131.4,532.7L1133.6,543.1L1135.8,557.6L1138.0,573.7L1139.8,578.6L1142.4,567.5L1144.6,550.8L1146.8,536.8L1149.0,527.7L1150.9,525.1L1153.4,529.6L1155.6,540.2L1157.8,555.3L1160.0,572.1L1162.2,581.0L1164.4,570.2L1166.6,551.2L1168.8,533.9L1171.0,521.7L1173.6,516.2L1175.4,519.4L1177.6,531.4L1179.8,549.9L1182.0,570.9L1184.2,587.9L1186.4,591.2L1188.6,591.3L1190.8,591.7L1193.0,592.5L1195.2,593.3L1197.4,593.8L1199.6,594.0L1201.8,594.0L1204.0,593.8L1206.2,592.8L1208.4,587.3L1210.6,570.3L1212.8,550.4L1215.0,533.3L1217.2,522.7L1218.8,520.3L1221.6,527.5L1223.8,542.1L1226.0,561.2L1228.2,580.5L1230.4,592.5L1232.6,594.6L1234.8,594.6L1237.0,594.6L1239.2,594.5L1241.4,594.3L1243.6,594.1L1245.8,593.9L1248.0,593.8L1250.2,593.9L1252.4,593.9L1254.6,594.0L1256.8,594.0L1259.0,593.8L1261.2,593.5L1263.4,592.8L1265.6,591.8L1267.8,590.7L1270.0,590.1L1272.2,590.3L1274.4,591.4L1276.6,592.6L1278.8,593.6L1281.0,594.2L1283.2,594.6L1285.4,594.7L1287.6,594.7L1289.8,594.6L1292.0,594.3L1294.2,594.1L1296.4,594.0L1298.6,594.0L1300.8,594.1L1303.0,594.2L1305.2,594.3L1307.4,594.2L1309.6,594.1L1311.8,594.1L1314.0,594.3L1316.2,594.5L1318.4,594.7L1320.6,594.8L1322.8,594.9L1325.0,594.9L1327.2,594.8L1329.4,594.7L1331.6,594.6L1333.8,594.4L1336.0,594.3L1338.2,594.1L1340.4,593.9L1342.6,593.5L1344.8,593.0L1347.0,592.3L1349.2,591.6L1351.4,591.3L1353.6,591.6L1355.8,592.3L1358.0,592.8L1360.2,593.2L1362.4,593.3L1364.6,593.4L1366.8,593.4L1369.0,593.4L1371.2,593.5L1373.4,593.6L1375.6,593.6L1377.8,593.7L1380.0,593.6L1382.2,593.7L1384.4,591.3L1386.6,577.6L1388.8,553.7L1391.0,530.1L1393.2,512.2L1396.0,503.3L1397.6,506.3L1399.8,519.4L1402.0,540.4L1404.2,565.0L1406.4,586.2L1408.6,593.4L1410.8,594.7L1413.0,594.7L1415.2,594.8L1417.4,594.7L1419.6,594.6L1421.8,594.5L1424.0,594.3L1426.2,594.1L1428.4,592.3L1430.6,582.6L1432.8,560.6L1435.0,537.2L1437.2,518.3L1439.4,507.9L1440.5,506.5L1441.6,507.9L1443.8,518.3L1446.0,537.2L1448.2,560.6L1450.4,582.6L1452.6,592.2L1454.8,594.0L1457.0,594.0L1459.2,593.7L1461.4,592.8L1463.6,591.6L1465.8,590.4L1468.0,590.0L1470.2,590.6L1472.4,591.7L1474.6,592.9L1476.8,593.7L1479.0,594.3L1479,605 L60,605Z"/>
<path id="catT" d="M60.0,593.3L62.2,593.1L64.4,592.9L66.6,592.7L68.8,592.5L71.0,592.3L73.2,592.2L75.4,592.3L77.6,592.4L79.8,592.5L82.0,592.4L84.2,592.3L86.4,592.2L88.6,592.1L90.8,592.1L93.0,592.1L95.2,592.2L97.4,592.3L99.6,592.6L101.8,592.8L104.0,592.9L106.2,592.9L108.4,592.8L110.6,592.7L112.8,592.7L115.0,592.9L117.2,593.0L119.4,593.2L121.6,593.2L123.8,593.2L126.0,593.1L128.2,593.0L130.4,592.9L132.6,592.7L134.8,592.6L137.0,592.6L139.2,592.6L141.4,592.6L143.6,592.7L145.8,592.9L148.0,593.1L150.2,593.3L152.4,593.5L154.6,593.5L156.8,593.5L159.0,593.5L161.2,593.3L163.4,593.0L165.6,592.7L167.8,592.5L170.0,592.4L172.2,592.4L174.4,592.4L176.6,592.4L178.8,592.5L181.0,592.5L183.2,592.6L185.4,592.7L187.6,592.9L189.8,593.0L192.0,593.1L194.2,593.0L196.4,592.8L198.6,592.6L200.8,592.5L203.0,592.5L205.2,592.5L207.4,592.7L209.6,592.8L211.8,593.0L214.0,593.2L216.2,593.3L218.4,593.4L220.6,593.4L222.8,593.3L225.0,593.2L227.2,593.1L229.4,592.9L231.6,592.6L233.8,592.4L236.0,592.3L238.2,592.1L240.4,590.9L242.6,582.5L244.8,564.3L247.0,545.8L249.2,531.4L252.2,523.5L253.6,525.3L255.8,534.7L258.0,550.6L260.2,569.6L262.4,586.4L264.6,591.8L266.8,592.8L269.0,593.0L271.2,593.1L273.4,593.1L275.6,593.0L277.8,592.8L280.0,592.7L282.2,592.5L284.4,590.4L286.6,580.5L288.8,567.0L291.0,554.7L293.2,546.3L295.3,543.5L297.6,546.9L299.8,555.7L302.0,568.2L304.2,581.7L306.4,590.8L308.6,592.4L310.8,592.6L313.0,592.4L315.2,592.0L317.4,591.3L319.6,590.6L321.8,590.1L324.0,590.2L326.2,590.8L328.4,591.6L330.6,592.2L332.8,592.7L335.0,592.9L337.2,592.9L339.4,592.9L341.6,592.8L343.8,592.7L346.0,592.8L348.2,592.9L350.4,593.0L352.6,593.0L354.8,593.0L357.0,592.8L359.2,592.7L361.4,592.6L363.6,592.5L365.8,592.4L368.0,592.2L370.2,591.6L372.4,590.8L374.6,588.8L376.8,574.4L379.0,554.2L381.2,535.8L383.4,523.2L385.5,519.0L387.8,524.0L390.0,537.2L392.2,556.0L394.4,576.1L396.6,590.0L398.8,592.2L401.0,592.3L403.2,592.0L405.4,591.3L407.6,590.5L409.8,590.1L412.0,590.3L414.2,591.1L416.4,591.3L418.6,586.0L420.8,570.9L423.0,554.4L425.2,540.8L427.4,533.1L428.6,532.0L429.6,532.8L431.8,539.9L434.0,553.0L436.2,569.4L438.4,584.9L440.6,591.6L442.8,592.9L445.0,593.1L447.2,593.2L449.4,593.0L451.6,592.8L453.8,592.5L456.0,592.2L458.2,592.1L460.4,591.9L462.6,591.8L464.8,591.6L467.0,591.6L469.2,591.9L471.4,592.4L473.6,592.7L475.8,592.8L478.0,592.7L480.2,589.6L482.4,571.4L484.6,542.9L486.8,515.7L489.0,495.9L491.5,487.5L493.4,492.4L495.6,509.4L497.8,535.0L500.0,563.9L502.2,587.0L504.4,591.2L506.6,591.9L508.8,592.3L511.0,592.4L513.2,592.4L515.4,592.2L517.6,592.0L519.8,591.8L522.0,591.8L524.2,589.9L526.4,575.3L528.6,547.7L530.8,520.5L533.0,499.8L535.8,489.5L537.4,492.9L539.6,508.1L541.8,532.4L544.0,560.7L546.2,585.1L548.4,591.6L550.6,592.5L552.8,592.4L555.0,592.4L557.2,592.3L559.4,592.3L561.6,592.3L563.8,592.3L566.0,592.4L568.2,592.5L570.4,592.5L572.6,592.5L574.8,592.6L577.0,592.6L579.2,592.6L581.4,592.6L583.6,592.7L585.8,592.8L588.0,593.0L590.2,593.1L592.4,593.1L594.6,592.9L596.8,592.7L599.0,592.5L601.2,592.4L603.4,592.5L605.6,592.6L607.8,592.8L610.0,593.0L612.2,593.2L614.4,593.3L616.6,593.3L618.8,593.1L621.0,592.8L623.2,592.5L625.4,592.4L627.6,592.3L629.8,592.3L632.0,592.3L634.2,592.1L636.4,591.9L638.6,591.7L640.8,591.7L643.0,592.1L645.2,592.6L647.4,593.0L649.6,593.1L651.8,593.0L654.0,592.8L656.2,592.7L658.4,592.7L660.6,592.8L662.8,592.9L665.0,592.9L667.2,592.7L669.4,592.6L671.6,592.5L673.8,592.6L676.0,592.8L678.2,593.1L680.4,593.2L682.6,593.3L684.8,593.2L687.0,593.2L689.2,593.2L691.4,593.3L693.6,593.4L695.8,593.5L698.0,593.5L700.2,593.6L702.4,593.6L704.6,591.9L706.8,582.4L709.0,563.9L711.2,545.2L713.4,530.5L716.4,522.5L717.8,524.3L720.0,533.9L722.2,550.0L724.4,569.2L726.6,586.3L728.8,592.0L731.0,593.0L733.2,593.1L735.4,593.0L737.6,592.9L739.8,592.6L742.0,592.4L744.2,592.2L746.4,591.9L748.6,589.5L750.8,578.7L753.0,565.2L755.2,553.3L757.4,545.6L759.2,543.5L761.8,547.8L764.0,557.2L766.2,570.1L768.4,583.4L770.6,591.7L772.8,593.2L775.0,593.2L777.2,593.0L779.4,592.7L781.6,592.5L783.8,592.3L786.0,592.5L788.2,592.8L790.4,593.1L792.6,593.2L794.8,593.0L797.0,592.8L799.2,592.5L801.4,592.3L803.6,592.2L805.8,592.1L808.0,592.1L810.2,592.1L812.4,592.2L814.6,592.3L816.8,592.4L819.0,592.5L821.2,592.6L823.4,592.7L825.6,592.7L827.8,592.8L830.0,592.9L832.2,593.0L834.4,591.5L836.6,582.6L838.8,563.4L841.0,543.6L843.2,528.0L846.3,519.0L847.6,520.6L849.8,530.3L852.0,547.0L854.2,567.1L856.4,585.4L858.6,591.9L860.8,592.9L863.0,592.9L865.2,592.9L867.4,593.0L869.6,593.1L871.8,593.0L874.0,592.9L876.2,592.6L878.4,590.8L880.6,580.6L882.8,564.4L885.0,549.0L887.2,537.7L889.7,532.9L891.6,535.7L893.8,545.3L896.0,560.0L898.2,576.4L900.4,589.3L902.6,592.3L904.8,592.6L907.0,592.4L909.2,592.3L911.4,592.3L913.6,592.3L915.8,592.4L918.0,592.5L920.2,592.6L922.4,592.8L924.6,592.9L926.8,592.9L929.0,592.8L931.2,592.7L933.4,592.5L935.6,592.4L937.8,592.4L940.0,589.2L942.2,568.5L944.4,534.4L946.6,501.5L948.8,477.2L951.4,466.3L953.2,471.6L955.4,491.3L957.6,521.8L959.8,556.5L962.0,585.4L964.2,591.9L966.4,592.9L968.6,593.0L970.8,592.9L973.0,592.8L975.2,592.7L977.4,592.7L979.6,592.7L981.8,592.5L984.0,589.8L986.2,573.2L988.4,548.4L990.6,525.0L992.8,508.2L995.2,501.5L997.2,506.2L999.4,521.3L1001.6,543.8L1003.8,568.9L1006.0,588.1L1008.2,590.8L1010.4,591.8L1012.6,592.4L1014.8,592.7L1017.0,592.7L1019.2,592.6L1021.4,592.3L1023.6,592.0L1025.8,592.0L1028.0,592.1L1030.2,592.4L1032.4,592.6L1034.6,592.7L1036.8,592.7L1039.0,592.5L1041.2,592.4L1043.4,592.3L1045.6,592.2L1047.8,592.2L1050.0,592.2L1052.2,592.2L1054.4,592.2L1056.6,592.2L1058.8,592.4L1061.0,592.5L1063.2,592.6L1065.4,592.7L1067.6,592.7L1069.8,592.7L1072.0,592.8L1074.2,592.9L1076.4,592.9L1078.6,593.0L1080.8,592.9L1083.0,592.8L1085.2,592.5L1087.4,592.4L1089.6,592.3L1091.8,592.3L1094.0,592.3L1096.2,592.0L1098.4,589.0L1100.6,576.3L1102.8,560.4L1105.0,546.4L1107.2,537.3L1109.0,534.9L1111.6,539.9L1113.8,551.0L1116.0,566.1L1118.2,581.7L1120.4,590.1L1122.6,591.1L1124.8,591.5L1127.0,592.0L1129.2,592.5L1131.4,592.9L1133.6,593.2L1135.8,593.4L1138.0,593.5L1140.2,593.5L1142.4,593.4L1144.6,593.3L1146.8,593.1L1149.0,592.8L1151.2,592.6L1153.4,592.5L1155.6,592.5L1157.8,592.6L1160.0,592.7L1162.2,592.7L1164.4,592.7L1166.6,592.7L1168.8,592.7L1171.0,592.8L1173.2,592.9L1175.4,593.0L1177.6,593.1L1179.8,593.3L1182.0,593.4L1184.2,593.3L1186.4,593.1L1188.6,592.6L1190.8,592.0L1193.0,591.4L1195.2,590.9L1197.4,590.8L1199.6,591.2L1201.8,591.8L1204.0,592.3L1206.2,592.6L1208.4,592.8L1210.6,592.9L1212.8,592.9L1215.0,592.9L1217.2,593.0L1219.4,593.1L1221.6,593.2L1223.8,593.1L1226.0,592.7L1228.2,590.1L1230.4,575.6L1232.6,552.7L1234.8,530.8L1237.0,514.9L1239.5,508.1L1241.4,511.4L1243.6,522.9L1245.8,540.7L1248.0,561.8L1250.8,579.8L1252.4,575.2L1254.6,557.1L1256.8,540.1L1259.0,527.2L1262.0,520.3L1263.4,521.9L1265.6,530.5L1267.8,545.1L1270.0,563.2L1272.3,568.5L1274.4,559.5L1276.6,537.9L1278.8,519.9L1281.0,509.0L1282.6,506.5L1285.4,515.1L1287.6,532.4L1289.8,555.1L1292.0,578.2L1294.2,590.7L1296.4,592.9L1298.6,593.0L1300.8,592.9L1303.0,592.8L1305.2,592.7L1307.4,592.6L1309.6,592.4L1311.8,592.3L1314.0,592.3L1316.2,592.4L1318.4,592.5L1320.6,592.6L1322.8,592.7L1325.0,592.9L1327.2,593.0L1329.4,593.0L1331.6,593.0L1333.8,593.0L1336.0,592.9L1338.2,592.8L1340.4,592.7L1342.6,592.7L1344.8,592.7L1347.0,592.7L1349.2,592.8L1351.4,592.9L1353.6,593.0L1355.8,593.1L1358.0,593.2L1360.2,593.2L1362.4,593.0L1364.6,592.6L1366.8,591.8L1369.0,590.8L1371.2,590.2L1373.4,590.2L1375.6,590.8L1377.8,591.6L1380.0,592.4L1382.2,592.9L1384.4,593.2L1386.6,593.3L1388.8,593.3L1391.0,593.3L1393.2,593.3L1395.4,593.3L1397.6,593.1L1399.8,592.8L1402.0,592.2L1404.2,591.5L1406.4,590.8L1408.6,590.6L1410.8,590.8L1413.0,591.2L1415.2,591.6L1417.4,592.0L1419.6,592.3L1421.8,592.6L1424.0,592.8L1426.2,592.9L1428.4,593.1L1430.6,593.2L1432.8,593.2L1435.0,593.0L1437.2,592.8L1439.4,592.5L1441.6,592.1L1443.8,591.8L1446.0,591.7L1448.2,591.8L1450.4,592.1L1452.6,592.3L1454.8,592.4L1457.0,592.4L1459.2,592.1L1461.4,591.5L1463.6,590.5L1465.8,589.0L1468.0,587.6L1470.2,587.1L1472.4,587.8L1474.6,589.3L1476.8,590.8L1479.0,592.0L1479,605 L60,605Z"/>
</defs>
<g stroke="none" fill-opacity="0.64">
<use href="#catA" fill="#dcf5dc"/>
<use href="#catC" fill="#dee5f8"/>
<use href="#catG" fill="#d5d5d5"/>
<use href="#catT" fill="#fcdedc"/>
</g>
<g fill="none" stroke-width="3" stroke-linejoin="round">
<use href="#catA" stroke="#2fc52f"/>
<use href="#catC" stroke="#3b66d8"/>
<use href="#catG" stroke="#0a0a0a"/>
<use href="#catT" stroke="#ee3a32"/>
</g></g>
<rect x="106" y="596" width="1329" height="2" fill="#b4b4b4"/>
<g clip-path="url(#ca)">
<text class="num" x="207" y="619">420</text>
<text class="num" x="427" y="619">410</text>
<text class="num" x="647" y="619">400</text>
<text class="num" x="867" y="619">390</text>
<text class="num" x="1087" y="619">380</text>
<text class="num" x="1307" y="619">370</text>
</g>
<text class="ttl" transform="translate(59.3,690.4) scale(1.017,1)">b.Mutation</text>
<g clip-path="url(#cb)">
<text class="b" x="104.5 148.5 192.5 214.5 236.5 302.5 324.5 346.5 434.5 500.5 544.5 566.5 588.5 610.5 654.5 676.5 720.5 764.5 808.5 830.5 852.5 918.5 940.5 984.5 1006.5 1028.5 1072.5 1094.5 1138.5 1182.5" y="746.5">TATTTATTTAATATATATATTAATATTTTA</text>
<text class="b" transform="scale(0.86,1)" x="147.1 198.3 300.6 326.2 428.5 454.1 479.7 530.8 556.4 607.6 735.5 812.2 863.4 914.5 1016.9 1042.4 1119.2 1221.5 1298.3 1349.4 1400.6 1426.2 1451.7" y="746.5">GCGGGGCCGGCGGGCCCGGCGGG</text>
<rect x="100" y="771" width="1160" height="4.2" fill="#6d6d6d"/>
<rect x="102.5" y="767.3" width="4" height="11.6" fill="#6d6d6d"/>
<rect x="124.5" y="763.2" width="4" height="19.8" fill="#6d6d6d"/>
<rect x="146.5" y="767.3" width="4" height="11.6" fill="#6d6d6d"/>
<rect x="168.5" y="767.3" width="4" height="11.6" fill="#6d6d6d"/>
<rect x="190.5" y="767.3" width="4" height="11.6" fill="#6d6d6d"/>
<rect x="212.5" y="767.3" width="4" height="11.6" fill="#6d6d6d"/>
<rect x="234.5" y="759.3" width="4" height="27.6" fill="#6d6d6d"/>
<rect x="256.5" y="767.3" width="4" height="11.6" fill="#6d6d6d"/>
<rect x="278.5" y="767.3" width="4" height="11.6" fill="#6d6d6d"/>
<rect x="300.5" y="767.3" width="4" height="11.6" fill="#6d6d6d"/>
<rect x="322.5" y="767.3" width="4" height="11.6" fill="#6d6d6d"/>
<rect x="344.5" y="763.2" width="4" height="19.8" fill="#6d6d6d"/>
<rect x="366.5" y="767.3" width="4" height="11.6" fill="#6d6d6d"/>
<rect x="388.5" y="767.3" width="4" height="11.6" fill="#6d6d6d"/>
<rect x="410.5" y="767.3" width="4" height="11.6" fill="#6d6d6d"/>
<rect x="432.5" y="767.3" width="4" height="11.6" fill="#6d6d6d"/>
<rect x="454.5" y="759.3" width="4" height="27.6" fill="#6d6d6d"/>
<rect x="476.5" y="767.3" width="4" height="11.6" fill="#6d6d6d"/>
<rect x="498.5" y="767.3" width="4" height="11.6" fill="#6d6d6d"/>
<rect x="520.5" y="767.3" width="4" height="11.6" fill="#6d6d6d"/>
<rect x="542.5" y="767.3" width="4" height="11.6" fill="#6d6d6d"/>
<rect x="564.5" y="763.2" width="4" height="19.8" fill="#6d6d6d"/>
<rect x="586.5" y="767.3" width="4" height="11.6" fill="#6d6d6d"/>
<rect x="608.5" y="767.3" width="4" height="11.6" fill="#6d6d6d"/>
<rect x="630.5" y="767.3" width="4" height="11.6" fill="#6d6d6d"/>
<rect x="652.5" y="767.3" width="4" height="11.6" fill="#6d6d6d"/>
<rect x="674.5" y="759.3" width="4" height="27.6" fill="#6d6d6d"/>
<rect x="696.5" y="767.3" width="4" height="11.6" fill="#6d6d6d"/>
<rect x="718.5" y="767.3" width="4" height="11.6" fill="#6d6d6d"/>
<rect x="740.5" y="767.3" width="4" height="11.6" fill="#6d6d6d"/>
<rect x="762.5" y="767.3" width="4" height="11.6" fill="#6d6d6d"/>
<rect x="784.5" y="763.2" width="4" height="19.8" fill="#6d6d6d"/>
<rect x="806.5" y="767.3" width="4" height="11.6" fill="#6d6d6d"/>
<rect x="828.5" y="767.3" width="4" height="11.6" fill="#6d6d6d"/>
<rect x="850.5" y="767.3" width="4" height="11.6" fill="#6d6d6d"/>
<rect x="872.5" y="767.3" width="4" height="11.6" fill="#6d6d6d"/>
<rect x="894.5" y="759.3" width="4" height="27.6" fill="#6d6d6d"/>
<rect x="916.5" y="767.3" width="4" height="11.6" fill="#6d6d6d"/>
<rect x="938.5" y="767.3" width="4" height="11.6" fill="#6d6d6d"/>
<rect x="960.5" y="767.3" width="4" height="11.6" fill="#6d6d6d"/>
<rect x="982.5" y="767.3" width="4" height="11.6" fill="#6d6d6d"/>
<rect x="1004.5" y="763.2" width="4" height="19.8" fill="#6d6d6d"/>
<rect x="1026.5" y="767.3" width="4" height="11.6" fill="#6d6d6d"/>
<rect x="1048.5" y="767.3" width="4" height="11.6" fill="#6d6d6d"/>
<rect x="1070.5" y="767.3" width="4" height="11.6" fill="#6d6d6d"/>
<rect x="1092.5" y="767.3" width="4" height="11.6" fill="#6d6d6d"/>
<rect x="1114.5" y="759.3" width="4" height="27.6" fill="#6d6d6d"/>
<rect x="1136.5" y="767.3" width="4" height="11.6" fill="#6d6d6d"/>
<rect x="1158.5" y="767.3" width="4" height="11.6" fill="#6d6d6d"/>
<rect x="1180.5" y="767.3" width="4" height="11.6" fill="#6d6d6d"/>
<rect x="1202.5" y="767.3" width="4" height="11.6" fill="#6d6d6d"/>
<rect x="1224.5" y="763.2" width="4" height="19.8" fill="#6d6d6d"/>
<rect x="1246.5" y="767.3" width="4" height="11.6" fill="#6d6d6d"/>
<rect x="1268.5" y="767.3" width="4" height="11.6" fill="#6d6d6d"/>
<text class="n" x="104.5 148.5 192.5 214.5 236.5 302.5 324.5 346.5 434.5 500.5 544.5 566.5 588.5 610.5 654.5 676.5 720.5 764.5 808.5 830.5 852.5 918.5 940.5 984.5 1006.5 1028.5 1072.5 1094.5 1138.5 1182.5" y="820.6">ATAAATAAATTATATATATAATTATAAAAT</text>
<text class="n" transform="scale(0.86,1)" x="147.1 198.3 300.6 326.2 428.5 454.1 479.7 530.8 556.4 607.6 735.5 812.2 863.4 914.5 1016.9 1042.4 1119.2 1221.5 1298.3 1349.4 1400.6 1426.2 1451.7" y="820.6">CGCCCCGGCCGCCCGGGCCGCCC</text>
<rect x="100" y="845" width="1160" height="30" fill="#fdd17f"/>
<text class="aa" x="148.5" y="866.8">D</text>
<text class="aa" x="214.5" y="866.8">F</text>
<text class="aa" x="280.5" y="866.8">G</text>
<text class="aa" x="346.5" y="866.8">L</text>
<text class="aa" x="412.5" y="866.8">A</text>
<text class="aa" x="478.5" y="866.8">R</text>
<text class="aa" x="544.5" y="866.8">D</text>
<text class="aa" x="610.5" y="866.8">I</text>
<text class="aa" x="676.5" y="866.8">M</text>
<text class="aa" x="742.5" y="866.8">S</text>
<text class="aa" x="808.5" y="866.8">D</text>
<text class="aa" x="874.5" y="866.8">S</text>
<text class="aa" x="940.5" y="866.8">N</text>
<text class="aa" x="1006.5" y="866.8">Y</text>
<text class="aa" x="1072.5" y="866.8">V</text>
<text class="aa" x="1138.5" y="866.8">V</text>
<text class="aa" x="1204.5" y="866.8">R</text>
<text class="b" x="104.5 148.5 192.5 214.5 236.5 302.5 324.5 346.5 434.5 500.5 544.5 566.5 588.5 610.5 654.5 676.5 720.5 764.5 808.5 830.5 852.5 918.5 940.5 984.5 1006.5 1028.5 1072.5 1094.5 1138.5 1182.5" y="968.7">TATTTATTTAATATATATATTAATATTTTA</text>
<text class="b" transform="scale(0.86,1)" x="147.1 198.3 300.6 326.2 428.5 454.1 479.7 530.8 556.4 607.6 735.5 812.2 863.4 914.5 1016.9 1042.4 1119.2 1221.5 1298.3 1349.4 1400.6 1426.2 1451.7" y="968.7">GCGGGGCCGGCGGGCCCGGCGGG</text>
<rect x="100" y="985" width="1160" height="1.6" fill="#a9a9a9"/>
<rect x="620.9" y="999.7" width="68.8" height="30.6" fill="#fbb3b8" stroke="#ee1216" stroke-width="1.9"/>
<text class="n" x="104.5 148.5 192.5 214.5 236.5 302.5 324.5 346.5 434.5 500.5 544.5 566.5 588.5 610.5" y="1024.3">TATTTATTTAATAT</text>
<text class="n" transform="scale(0.86,1)" x="147.1 198.3 300.6 326.2 428.5 454.1 479.7 530.8 556.4 607.6" y="1024.3">GCGGGGCCGG</text>
<text class="n" x="720.5 764.5 808.5 830.5 852.5 918.5 940.5 984.5 1006.5 1028.5 1072.5 1094.5 1138.5 1182.5" y="1024.3">ATATTAATATTTTA</text>
<text class="n" transform="scale(0.86,1)" x="812.2 863.4 914.5 1016.9 1042.4 1119.2 1221.5 1298.3 1349.4 1400.6 1426.2 1451.7" y="1024.3">GGGCCCGGCGGG</text>
<rect x="627.3" y="1015.2" width="10.4" height="3.6" fill="#0a0a0a"/>
<rect x="649.3" y="1015.2" width="10.4" height="3.6" fill="#0a0a0a"/>
<rect x="671.3" y="1015.2" width="10.4" height="3.6" fill="#0a0a0a"/>
<line x1="234" y1="1038" x2="234" y2="1230" stroke="#cbcbcb" stroke-width="1.8" stroke-dasharray="8 4"/>
<line x1="454" y1="1038" x2="454" y2="1230" stroke="#cbcbcb" stroke-width="1.8" stroke-dasharray="8 4"/>
<line x1="674" y1="1038" x2="674" y2="1230" stroke="#cbcbcb" stroke-width="1.8" stroke-dasharray="8 4"/>
<line x1="894" y1="1038" x2="894" y2="1230" stroke="#cbcbcb" stroke-width="1.8" stroke-dasharray="8 4"/>
<line x1="1114" y1="1038" x2="1114" y2="1230" stroke="#cbcbcb" stroke-width="1.8" stroke-dasharray="8 4"/>
</g>
<g clip-path="url(#cbt)">
<defs>
<path id="cbtA" d="M70.0,1230.5L72.2,1230.5L74.4,1230.5L76.6,1230.4L78.8,1230.3L81.0,1230.2L83.2,1230.1L85.4,1230.0L87.6,1230.0L89.8,1229.9L92.0,1230.0L94.2,1230.0L96.4,1230.0L98.6,1229.9L100.8,1229.8L103.0,1229.7L105.2,1229.7L107.4,1229.9L109.6,1230.1L111.8,1230.3L114.0,1230.4L116.2,1230.4L118.4,1230.3L120.6,1230.2L122.8,1230.0L125.0,1229.8L127.2,1229.5L129.4,1228.9L131.6,1228.3L133.8,1227.7L136.0,1227.4L138.2,1225.3L140.4,1211.2L142.6,1185.5L144.8,1159.9L147.0,1140.5L149.7,1131.3L151.4,1135.0L153.6,1150.0L155.8,1173.4L158.0,1200.0L160.2,1221.8L162.4,1228.1L164.6,1228.9L166.8,1228.9L169.0,1229.2L171.2,1229.5L173.4,1229.9L175.6,1230.1L177.8,1230.3L180.0,1230.3L182.2,1230.2L184.4,1230.1L186.6,1230.1L188.8,1230.2L191.0,1230.3L193.2,1230.5L195.4,1230.5L197.6,1230.5L199.8,1230.5L202.0,1230.5L204.2,1230.4L206.4,1230.4L208.6,1230.3L210.8,1230.3L213.0,1230.3L215.2,1230.4L217.4,1230.4L219.6,1230.3L221.8,1230.2L224.0,1230.0L226.2,1229.9L228.4,1229.8L230.6,1229.8L232.8,1229.8L235.0,1229.9L237.2,1230.0L239.4,1230.1L241.6,1230.2L243.8,1230.2L246.0,1230.3L248.2,1230.3L250.4,1230.3L252.6,1230.4L254.8,1230.4L257.0,1230.4L259.2,1230.5L261.4,1230.5L263.6,1230.5L265.8,1230.4L268.0,1230.3L270.2,1230.1L272.4,1229.9L274.6,1229.7L276.8,1229.4L279.0,1229.2L281.2,1229.1L283.4,1229.1L285.6,1229.3L287.8,1229.7L290.0,1230.0L292.2,1228.7L294.4,1219.7L296.6,1196.7L298.8,1170.5L301.0,1148.2L303.2,1134.8L304.6,1132.3L307.6,1143.5L309.8,1163.8L312.0,1189.5L314.2,1214.4L316.4,1227.5L318.6,1229.8L320.8,1229.9L323.0,1229.9L325.2,1229.9L327.4,1230.0L329.6,1230.0L331.8,1230.0L334.0,1230.0L336.2,1230.0L338.4,1230.0L340.6,1229.9L342.8,1229.8L345.0,1229.7L347.2,1229.5L349.4,1229.3L351.6,1229.1L353.8,1229.0L356.0,1229.2L358.2,1229.5L360.4,1229.9L362.6,1230.1L364.8,1230.2L367.0,1230.3L369.2,1230.3L371.4,1230.2L373.6,1230.1L375.8,1230.0L378.0,1230.0L380.2,1230.0L382.4,1230.2L384.6,1230.3L386.8,1230.4L389.0,1230.4L391.2,1230.4L393.4,1230.3L395.6,1230.3L397.8,1230.4L400.0,1230.4L402.2,1230.5L404.4,1230.4L406.6,1230.4L408.8,1230.4L411.0,1230.3L413.2,1230.4L415.4,1230.4L417.6,1230.3L419.8,1230.1L422.0,1229.9L424.2,1229.6L426.4,1229.6L428.6,1229.6L430.8,1229.7L433.0,1229.8L435.2,1229.8L437.4,1229.8L439.6,1229.7L441.8,1229.7L444.0,1229.7L446.2,1229.8L448.4,1229.8L450.6,1229.8L452.8,1229.8L455.0,1229.8L457.2,1229.7L459.4,1229.7L461.6,1229.7L463.8,1229.7L466.0,1229.8L468.2,1230.0L470.4,1230.1L472.6,1230.2L474.8,1230.2L477.0,1230.3L479.2,1230.4L481.4,1230.4L483.6,1230.4L485.8,1230.3L488.0,1230.2L490.2,1228.7L492.4,1220.3L494.6,1203.4L496.8,1185.1L499.0,1170.1L501.2,1161.7L502.3,1160.6L503.4,1161.7L505.6,1170.1L507.8,1185.1L510.0,1203.4L512.2,1220.3L514.4,1228.8L516.6,1230.2L518.8,1230.1L521.0,1230.0L523.2,1230.0L525.4,1230.0L527.6,1230.1L529.8,1230.2L532.0,1230.2L534.2,1229.3L536.4,1223.5L538.6,1202.4L540.8,1174.8L543.0,1149.7L545.2,1132.6L547.2,1127.3L549.6,1134.9L551.8,1153.8L554.0,1179.9L556.2,1207.1L558.4,1225.3L560.6,1229.8L562.8,1230.2L565.0,1230.2L567.2,1230.2L569.4,1230.2L571.6,1230.1L573.8,1230.0L576.0,1228.3L578.2,1219.0L580.4,1200.3L582.6,1180.4L584.8,1164.2L587.0,1155.5L588.0,1154.5L589.2,1155.9L591.4,1165.4L593.6,1182.1L595.8,1202.1L598.0,1220.3L600.2,1228.5L602.4,1229.8L604.6,1229.9L606.8,1229.9L609.0,1229.9L611.2,1229.9L613.4,1229.8L615.6,1229.8L617.8,1229.8L620.0,1229.8L622.2,1230.0L624.4,1230.1L626.6,1230.1L628.8,1230.1L631.0,1230.0L633.2,1229.9L635.4,1229.8L637.6,1229.8L639.8,1229.7L642.0,1229.7L644.2,1229.8L646.4,1229.8L648.6,1229.7L650.8,1229.5L653.0,1229.3L655.2,1229.4L657.4,1229.5L659.6,1229.8L661.8,1230.0L664.0,1230.1L666.2,1230.2L668.4,1230.2L670.6,1230.2L672.8,1230.2L675.0,1230.2L677.2,1230.3L679.4,1230.4L681.6,1230.5L683.8,1230.5L686.0,1230.5L688.2,1230.5L690.4,1230.5L692.6,1230.3L694.8,1230.2L697.0,1230.0L699.2,1230.0L701.4,1230.0L703.6,1230.0L705.8,1230.0L708.0,1226.9L710.2,1210.7L712.4,1185.6L714.6,1160.9L716.8,1142.6L719.4,1134.3L721.2,1138.3L723.4,1153.3L725.6,1176.2L727.8,1202.0L730.0,1222.7L732.2,1229.2L734.4,1230.2L736.6,1230.2L738.8,1230.3L741.0,1230.3L743.2,1230.3L745.4,1230.3L747.6,1230.3L749.8,1230.1L752.0,1230.0L754.2,1229.9L756.4,1229.8L758.6,1229.8L760.8,1229.8L763.0,1229.8L765.2,1229.8L767.4,1229.8L769.6,1229.8L771.8,1229.8L774.0,1229.8L776.2,1229.8L778.4,1229.8L780.6,1229.8L782.8,1229.9L785.0,1229.9L787.2,1229.9L789.4,1229.9L791.6,1229.9L793.8,1230.0L796.0,1230.1L798.2,1228.8L800.4,1220.6L802.6,1196.3L804.8,1167.4L807.0,1142.3L809.2,1126.6L810.8,1123.0L813.6,1133.7L815.8,1155.2L818.0,1183.1L820.2,1210.9L822.4,1227.1L824.6,1230.0L826.8,1230.1L829.0,1230.2L831.2,1230.2L833.4,1230.2L835.6,1230.2L837.8,1230.2L840.0,1230.1L842.2,1230.0L844.4,1230.0L846.6,1230.0L848.8,1230.0L851.0,1229.9L853.2,1229.9L855.4,1229.9L857.6,1229.9L859.8,1229.9L862.0,1230.0L864.2,1230.1L866.4,1230.2L868.6,1230.3L870.8,1230.3L873.0,1230.3L875.2,1230.2L877.4,1230.1L879.6,1230.0L881.8,1229.9L884.0,1229.9L886.2,1229.9L888.4,1229.9L890.6,1229.9L892.8,1229.8L895.0,1229.7L897.2,1229.5L899.4,1229.4L901.6,1229.3L903.8,1229.0L906.0,1225.9L908.2,1215.7L910.4,1202.5L912.6,1190.4L914.8,1182.2L916.8,1179.6L919.2,1182.3L921.4,1189.2L923.6,1199.1L925.8,1210.5L928.5,1216.6L930.2,1210.9L932.4,1195.2L934.6,1180.3L936.8,1168.7L939.0,1162.2L940.2,1161.3L941.2,1162.2L943.4,1170.1L945.6,1184.8L947.8,1202.9L950.0,1219.8L952.2,1228.4L954.4,1230.0L956.6,1230.1L958.8,1230.2L961.0,1230.2L963.2,1230.2L965.4,1230.2L967.6,1230.1L969.8,1230.0L972.0,1230.0L974.2,1229.9L976.4,1229.9L978.6,1229.8L980.8,1229.6L983.0,1229.4L985.2,1229.1L987.4,1229.1L989.6,1229.2L991.8,1229.5L994.0,1229.7L996.2,1227.7L998.4,1215.7L1000.6,1195.9L1002.8,1175.9L1005.0,1160.6L1007.8,1152.9L1009.4,1155.5L1011.6,1166.7L1013.8,1184.7L1016.0,1205.3L1018.2,1222.7L1020.4,1229.2L1022.6,1230.2L1024.8,1230.1L1027.0,1230.0L1029.2,1229.9L1031.4,1229.8L1033.6,1229.8L1035.8,1229.8L1038.0,1229.8L1040.2,1229.8L1042.4,1229.9L1044.6,1230.0L1046.8,1230.0L1049.0,1230.1L1051.2,1230.1L1053.4,1230.1L1055.6,1230.0L1057.8,1230.0L1060.0,1229.9L1062.2,1229.8L1064.4,1229.7L1066.6,1229.8L1068.8,1229.9L1071.0,1230.0L1073.2,1230.1L1075.4,1230.1L1077.6,1230.1L1079.8,1230.1L1082.0,1230.0L1084.2,1229.9L1086.4,1229.8L1088.6,1229.7L1090.8,1229.7L1093.0,1229.7L1095.2,1229.7L1097.4,1229.7L1099.6,1229.7L1101.8,1229.7L1104.0,1229.8L1106.2,1229.9L1108.4,1230.0L1110.6,1230.2L1112.8,1230.3L1115.0,1230.3L1117.2,1230.3L1119.4,1230.2L1121.6,1230.1L1123.8,1230.1L1126.0,1230.1L1128.2,1230.2L1130.4,1230.1L1132.6,1230.0L1134.8,1229.9L1137.0,1229.9L1139.2,1229.9L1141.4,1230.0L1143.6,1230.1L1145.8,1230.1L1148.0,1230.1L1150.2,1230.0L1152.4,1229.9L1154.6,1229.9L1156.8,1229.9L1159.0,1230.1L1161.2,1230.2L1163.4,1230.3L1165.6,1230.3L1167.8,1230.2L1170.0,1229.2L1172.2,1223.5L1174.4,1211.1L1176.6,1196.9L1178.8,1184.9L1181.0,1177.7L1182.4,1176.3L1185.4,1182.3L1187.6,1193.3L1189.8,1207.2L1192.0,1220.6L1194.2,1228.4L1196.4,1229.8L1198.6,1229.9L1200.8,1230.0L1203.0,1230.1L1205.2,1230.2L1207.4,1230.2L1209.6,1230.3L1211.8,1230.2L1214.0,1230.1L1216.2,1230.0L1218.4,1230.0L1220.6,1230.0L1222.8,1230.0L1225.0,1230.0L1227.2,1230.1L1229.4,1230.1L1231.6,1230.1L1233.8,1230.1L1236.0,1230.2L1238.2,1230.3L1240.4,1230.4L1242.6,1230.4L1244.8,1230.4L1247.0,1230.4L1249.2,1230.4L1251.4,1230.3L1253.6,1230.1L1255.8,1229.9L1258.0,1229.8L1260.2,1229.7L1262.4,1229.7L1264.6,1229.6L1266.8,1229.6L1269.0,1229.6L1271.2,1229.5L1273.4,1229.5L1275.6,1229.5L1277.8,1229.6L1280.0,1229.8L1282.2,1230.1L1284.4,1230.3L1286.6,1230.4L1288.8,1230.5L1288.8,1240 L70,1240Z"/>
<path id="cbtC" d="M70.0,1229.5L72.2,1229.2L74.4,1228.9L76.6,1228.8L78.8,1228.6L81.0,1228.5L83.2,1228.5L85.4,1228.7L87.6,1228.9L89.8,1229.0L92.0,1228.9L94.2,1228.8L96.4,1228.7L98.6,1228.7L100.8,1228.9L103.0,1229.2L105.2,1229.5L107.4,1229.7L109.6,1229.9L111.8,1230.1L114.0,1230.1L116.2,1230.1L118.4,1230.1L120.6,1230.0L122.8,1229.8L125.0,1229.4L127.2,1229.1L129.4,1229.0L131.6,1229.0L133.8,1229.2L136.0,1229.5L138.2,1229.6L140.4,1229.5L142.6,1229.2L144.8,1228.9L147.0,1228.6L149.2,1228.5L151.4,1228.4L153.6,1228.4L155.8,1228.5L158.0,1228.2L160.2,1224.3L162.4,1210.9L164.6,1194.1L166.8,1179.0L169.0,1169.2L170.8,1166.6L173.4,1172.0L175.6,1184.1L177.8,1200.2L180.0,1216.6L182.2,1227.3L184.4,1229.3L186.6,1229.3L188.8,1229.1L191.0,1228.7L193.2,1228.4L195.4,1228.3L197.6,1228.3L199.8,1228.4L202.0,1228.5L204.2,1228.6L206.4,1228.4L208.6,1228.1L210.8,1228.0L213.0,1228.2L215.2,1228.6L217.4,1228.9L219.6,1229.2L221.8,1229.3L224.0,1229.3L226.2,1229.4L228.4,1229.6L230.6,1229.8L232.8,1229.9L235.0,1229.9L237.2,1229.9L239.4,1229.8L241.6,1229.6L243.8,1229.4L246.0,1229.3L248.2,1229.1L250.4,1229.0L252.6,1228.8L254.8,1228.6L257.0,1228.1L259.2,1227.5L261.4,1227.3L263.6,1227.5L265.8,1228.2L268.0,1229.0L270.2,1229.4L272.4,1229.5L274.6,1229.2L276.8,1228.7L279.0,1228.0L281.2,1227.3L283.4,1226.9L285.6,1227.2L287.8,1227.9L290.0,1228.7L292.2,1229.4L294.4,1229.9L296.6,1230.2L298.8,1230.3L301.0,1230.3L303.2,1230.1L305.4,1229.8L307.6,1229.5L309.8,1229.1L312.0,1228.6L314.2,1228.4L316.4,1228.2L318.6,1228.2L320.8,1228.3L323.0,1228.3L325.2,1228.2L327.4,1228.2L329.6,1228.2L331.8,1228.3L334.0,1228.4L336.2,1228.5L338.4,1228.7L340.6,1228.8L342.8,1228.9L345.0,1228.8L347.2,1228.3L349.4,1227.8L351.6,1227.4L353.8,1227.5L356.0,1228.0L358.2,1228.7L360.4,1229.2L362.6,1229.5L364.8,1229.5L367.0,1229.4L369.2,1229.2L371.4,1229.1L373.6,1229.1L375.8,1229.1L378.0,1229.1L380.2,1229.2L382.4,1229.3L384.6,1229.4L386.8,1229.5L389.0,1229.6L391.2,1229.8L393.4,1229.8L395.6,1229.9L397.8,1229.8L400.0,1228.8L402.2,1222.9L404.4,1212.5L406.6,1201.4L408.8,1192.3L411.0,1187.5L412.0,1186.9L413.2,1187.7L415.4,1193.0L417.6,1202.3L419.8,1213.5L422.0,1223.5L424.2,1227.5L426.4,1228.1L428.6,1228.3L430.8,1228.8L433.0,1229.1L435.2,1229.3L437.4,1229.2L439.6,1228.9L441.8,1228.7L444.0,1228.1L446.2,1223.7L448.4,1205.4L450.6,1181.1L452.8,1158.8L455.0,1143.8L457.0,1139.1L459.4,1145.8L461.6,1162.5L463.8,1185.5L466.0,1209.6L468.2,1225.7L470.4,1229.3L472.6,1229.2L474.8,1229.0L477.0,1228.9L479.2,1229.0L481.4,1228.9L483.6,1228.6L485.8,1227.8L488.0,1226.9L490.2,1226.2L492.4,1226.2L494.6,1226.9L496.8,1227.9L499.0,1228.7L501.2,1229.3L503.4,1229.5L505.6,1229.5L507.8,1229.4L510.0,1229.1L512.2,1228.9L514.4,1228.8L516.6,1229.1L518.8,1229.4L521.0,1229.8L523.2,1230.0L525.4,1230.0L527.6,1229.9L529.8,1229.9L532.0,1229.7L534.2,1229.6L536.4,1229.4L538.6,1229.2L540.8,1229.0L543.0,1228.8L545.2,1228.7L547.4,1228.9L549.6,1229.3L551.8,1229.7L554.0,1229.9L556.2,1229.9L558.4,1229.7L560.6,1229.1L562.8,1228.4L565.0,1227.8L567.2,1227.5L569.4,1227.7L571.6,1228.2L573.8,1228.5L576.0,1228.8L578.2,1229.0L580.4,1229.3L582.6,1229.6L584.8,1229.9L587.0,1229.8L589.2,1229.6L591.4,1229.2L593.6,1229.0L595.8,1228.9L598.0,1228.9L600.2,1229.0L602.4,1229.1L604.6,1229.2L606.8,1229.2L609.0,1229.3L611.2,1229.3L613.4,1229.4L615.6,1229.5L617.8,1229.6L620.0,1229.6L622.2,1229.7L624.4,1229.6L626.6,1229.5L628.8,1229.2L631.0,1228.8L633.2,1228.3L635.4,1227.8L637.6,1227.2L639.8,1226.8L642.0,1226.8L644.2,1227.3L646.4,1228.2L648.6,1229.1L650.8,1229.7L653.0,1230.0L655.2,1230.0L657.4,1229.9L659.6,1229.7L661.8,1229.5L664.0,1229.2L666.2,1229.0L668.4,1228.8L670.6,1228.7L672.8,1228.7L675.0,1228.6L677.2,1228.6L679.4,1228.6L681.6,1228.6L683.8,1228.8L686.0,1229.1L688.2,1229.5L690.4,1229.7L692.6,1229.9L694.8,1230.0L697.0,1230.0L699.2,1230.1L701.4,1230.2L703.6,1230.3L705.8,1230.3L708.0,1230.2L710.2,1230.0L712.4,1229.8L714.6,1229.6L716.8,1229.5L719.0,1229.3L721.2,1229.2L723.4,1229.0L725.6,1228.8L727.8,1228.6L730.0,1228.7L732.2,1229.0L734.4,1229.4L736.6,1229.7L738.8,1229.7L741.0,1229.6L743.2,1229.5L745.4,1229.5L747.6,1229.5L749.8,1229.4L752.0,1229.2L754.2,1229.0L756.4,1228.9L758.6,1228.9L760.8,1229.0L763.0,1229.2L765.2,1229.4L767.4,1229.8L769.6,1230.1L771.8,1230.2L774.0,1230.3L776.2,1230.3L778.4,1230.4L780.6,1230.4L782.8,1230.4L785.0,1230.3L787.2,1230.1L789.4,1229.7L791.6,1229.2L793.8,1228.8L796.0,1228.6L798.2,1228.7L800.4,1229.0L802.6,1229.4L804.8,1229.7L807.0,1229.8L809.2,1229.8L811.4,1229.7L813.6,1229.4L815.8,1229.1L818.0,1228.7L820.2,1228.4L822.4,1228.2L824.6,1227.7L826.8,1226.8L829.0,1225.4L831.2,1224.2L833.4,1224.1L835.6,1225.2L837.8,1227.0L840.0,1228.6L842.2,1229.7L844.4,1230.2L846.6,1230.3L848.8,1230.3L851.0,1230.1L853.2,1229.8L855.4,1229.4L857.6,1229.1L859.8,1228.9L862.0,1228.7L864.2,1227.2L866.4,1218.5L868.6,1197.7L870.8,1175.0L873.0,1156.5L875.2,1146.1L876.3,1144.8L877.4,1145.9L879.6,1154.3L881.8,1169.7L884.0,1189.5L886.2,1208.7L887.5,1212.3L888.4,1211.4L890.6,1196.0L892.8,1178.0L895.0,1163.4L897.2,1154.9L898.6,1153.3L901.6,1162.0L903.8,1177.9L906.0,1198.0L908.2,1217.3L910.4,1227.1L912.6,1228.3L914.8,1227.4L917.0,1226.0L919.2,1224.3L921.4,1222.9L923.6,1222.7L925.8,1224.0L928.0,1226.2L930.2,1228.2L932.4,1229.6L934.6,1230.2L936.8,1230.3L939.0,1230.1L941.2,1229.8L943.4,1229.3L945.6,1229.0L947.8,1228.9L950.0,1228.5L952.2,1224.6L954.4,1211.1L956.6,1193.8L958.8,1178.1L961.0,1167.6L962.9,1164.6L965.4,1169.8L967.6,1181.9L969.8,1198.5L972.0,1215.6L974.2,1226.8L976.4,1229.2L978.6,1229.2L980.8,1228.9L983.0,1228.4L985.2,1227.8L987.4,1227.4L989.6,1227.3L991.8,1227.7L994.0,1228.4L996.2,1229.1L998.4,1229.7L1000.6,1230.1L1002.8,1230.2L1005.0,1230.1L1007.2,1229.8L1009.4,1229.5L1011.6,1229.2L1013.8,1228.9L1016.0,1228.6L1018.2,1228.5L1020.4,1228.4L1022.6,1228.4L1024.8,1228.5L1027.0,1228.4L1029.2,1228.1L1031.4,1227.7L1033.6,1227.2L1035.8,1226.9L1038.0,1227.1L1040.2,1227.6L1042.4,1228.1L1044.6,1228.5L1046.8,1228.6L1049.0,1228.7L1051.2,1228.8L1053.4,1229.1L1055.6,1229.4L1057.8,1229.6L1060.0,1229.7L1062.2,1229.7L1064.4,1229.6L1066.6,1229.5L1068.8,1229.4L1071.0,1229.2L1073.2,1229.0L1075.4,1228.9L1077.6,1228.7L1079.8,1228.7L1082.0,1228.7L1084.2,1228.9L1086.4,1229.2L1088.6,1229.5L1090.8,1229.7L1093.0,1229.9L1095.2,1230.0L1097.4,1230.1L1099.6,1230.1L1101.8,1230.0L1104.0,1230.0L1106.2,1229.9L1108.4,1229.8L1110.6,1229.7L1112.8,1229.6L1115.0,1229.7L1117.2,1229.8L1119.4,1230.0L1121.6,1230.0L1123.8,1229.9L1126.0,1229.6L1128.2,1229.3L1130.4,1229.0L1132.6,1228.8L1134.8,1228.6L1137.0,1228.5L1139.2,1228.6L1141.4,1228.9L1143.6,1229.2L1145.8,1229.3L1148.0,1229.2L1150.2,1228.3L1152.4,1223.4L1154.6,1206.7L1156.8,1185.6L1159.0,1166.8L1161.2,1154.6L1163.0,1151.3L1165.6,1158.1L1167.8,1173.1L1170.0,1193.3L1172.2,1213.8L1174.4,1226.2L1176.6,1228.4L1178.8,1228.3L1181.0,1228.4L1183.2,1228.5L1185.4,1228.7L1187.6,1228.9L1189.8,1229.0L1192.0,1229.1L1194.2,1229.1L1196.4,1229.1L1198.6,1228.9L1200.8,1228.8L1203.0,1228.8L1205.2,1228.9L1207.4,1228.8L1209.6,1228.4L1211.8,1227.7L1214.0,1226.8L1216.2,1226.2L1218.4,1226.4L1220.6,1227.3L1222.8,1228.4L1225.0,1229.3L1227.2,1229.8L1229.4,1230.1L1231.6,1230.2L1233.8,1230.2L1236.0,1230.0L1238.2,1229.6L1240.4,1229.2L1242.6,1228.7L1244.8,1228.4L1247.0,1228.4L1249.2,1228.5L1251.4,1228.7L1253.6,1229.0L1255.8,1229.3L1258.0,1229.5L1260.2,1229.7L1262.4,1229.9L1264.6,1229.9L1266.8,1229.8L1269.0,1229.4L1271.2,1229.0L1273.4,1228.7L1275.6,1228.7L1277.8,1228.8L1280.0,1228.9L1282.2,1228.6L1284.4,1228.2L1286.6,1228.1L1288.8,1228.4L1288.8,1240 L70,1240Z"/>
<path id="cbtG" d="M70.0,1229.7L72.2,1229.7L74.4,1229.6L76.6,1229.4L78.8,1229.1L81.0,1228.8L83.2,1228.8L85.4,1229.1L87.6,1229.4L89.8,1229.6L92.0,1229.5L94.2,1229.2L96.4,1228.9L98.6,1228.7L100.8,1228.7L103.0,1228.9L105.2,1229.0L107.4,1229.0L109.6,1228.9L111.8,1228.8L114.0,1228.6L116.2,1225.9L118.4,1212.6L120.6,1191.6L122.8,1171.1L125.0,1156.1L127.5,1149.7L129.4,1153.4L131.6,1166.3L133.8,1185.7L136.0,1207.2L138.2,1223.6L140.4,1227.4L142.6,1228.2L144.8,1228.6L147.0,1228.9L149.2,1229.2L151.4,1229.4L153.6,1229.5L155.8,1229.4L158.0,1229.3L160.2,1229.1L162.4,1229.0L164.6,1228.8L166.8,1228.4L169.0,1227.8L171.2,1227.2L173.4,1227.0L175.6,1227.3L177.8,1228.0L180.0,1228.5L182.2,1228.8L184.4,1228.9L186.6,1228.9L188.8,1228.8L191.0,1228.6L193.2,1228.1L195.4,1227.2L197.6,1226.1L199.8,1225.3L202.0,1225.4L204.2,1226.4L206.4,1227.7L208.6,1228.8L210.8,1229.3L213.0,1229.4L215.2,1229.4L217.4,1229.3L219.6,1229.2L221.8,1229.1L224.0,1229.1L226.2,1229.0L228.4,1228.8L230.6,1228.7L232.8,1228.5L235.0,1228.5L237.2,1228.6L239.4,1228.7L241.6,1228.8L243.8,1228.4L246.0,1224.6L248.2,1209.0L250.4,1187.6L252.6,1167.9L254.8,1154.3L256.9,1149.7L259.2,1153.9L261.4,1165.0L263.6,1181.3L265.8,1200.0L268.0,1217.0L268.9,1219.9L270.2,1217.9L272.4,1204.0L274.6,1189.5L276.8,1177.1L279.0,1169.1L281.0,1166.6L283.4,1171.3L285.6,1182.7L287.8,1198.7L290.0,1215.2L292.2,1223.1L294.4,1222.8L296.6,1222.7L298.8,1223.4L301.0,1224.3L303.2,1225.5L305.4,1226.8L307.6,1227.8L309.8,1228.6L312.0,1229.1L314.2,1229.3L316.4,1229.3L318.6,1229.1L320.8,1228.9L323.0,1228.7L325.2,1228.6L327.4,1228.6L329.6,1228.6L331.8,1228.6L334.0,1228.6L336.2,1228.6L338.4,1228.6L340.6,1228.5L342.8,1228.3L345.0,1228.3L347.2,1228.3L349.4,1228.3L351.6,1228.3L353.8,1227.9L356.0,1224.8L358.2,1207.4L360.4,1171.7L362.6,1135.4L364.8,1107.2L367.7,1092.3L369.2,1096.4L371.4,1116.0L373.6,1148.1L375.8,1185.3L378.0,1217.6L379.4,1225.8L382.4,1213.1L384.6,1196.9L386.8,1182.2L389.0,1172.2L391.0,1169.1L393.4,1173.6L395.6,1184.6L397.8,1199.9L400.0,1215.8L402.2,1226.7L404.4,1229.4L406.6,1229.7L408.8,1229.7L411.0,1229.7L413.2,1229.6L415.4,1229.4L417.6,1228.9L419.8,1227.9L422.0,1226.5L424.2,1225.0L426.4,1224.2L428.6,1224.7L430.8,1226.0L433.0,1227.4L435.2,1228.4L437.4,1228.9L439.6,1229.2L441.8,1229.2L444.0,1229.1L446.2,1228.9L448.4,1228.8L450.6,1228.9L452.8,1229.1L455.0,1229.4L457.2,1229.6L459.4,1229.5L461.6,1229.2L463.8,1228.8L466.0,1228.0L468.2,1224.0L470.4,1212.9L472.6,1199.7L474.8,1188.4L477.0,1181.4L478.5,1180.0L481.4,1185.3L483.6,1195.2L485.8,1208.1L488.0,1220.5L490.2,1227.1L492.4,1228.3L494.6,1228.3L496.8,1228.3L499.0,1228.3L501.2,1228.3L503.4,1228.3L505.6,1228.0L507.8,1227.4L510.0,1226.6L512.2,1224.7L514.4,1212.4L516.6,1195.6L518.8,1180.2L521.0,1169.9L523.0,1166.6L525.4,1171.3L527.6,1182.7L529.8,1198.7L532.0,1215.2L534.2,1225.7L536.4,1226.9L538.6,1225.8L540.8,1224.5L543.0,1223.8L545.2,1224.3L547.4,1225.9L549.6,1227.7L551.8,1229.0L554.0,1229.7L556.2,1229.9L558.4,1229.8L560.6,1229.7L562.8,1229.6L565.0,1229.5L567.2,1229.5L569.4,1229.5L571.6,1229.5L573.8,1229.5L576.0,1229.6L578.2,1229.6L580.4,1229.5L582.6,1229.4L584.8,1229.2L587.0,1229.0L589.2,1228.8L591.4,1228.6L593.6,1228.5L595.8,1228.6L598.0,1229.0L600.2,1229.3L602.4,1229.5L604.6,1229.6L606.8,1229.5L609.0,1229.4L611.2,1229.2L613.4,1228.9L615.6,1228.7L617.8,1228.7L620.0,1228.9L622.2,1229.2L624.4,1229.5L626.6,1229.7L628.8,1229.7L631.0,1229.6L633.2,1229.5L635.4,1229.4L637.6,1229.2L639.8,1229.1L642.0,1229.0L644.2,1228.9L646.4,1228.7L648.6,1228.6L650.8,1228.5L653.0,1228.3L655.2,1228.1L657.4,1227.7L659.6,1227.2L661.8,1226.9L664.0,1226.8L666.2,1226.7L668.4,1226.2L670.6,1225.2L672.8,1224.2L675.0,1224.0L677.2,1224.9L679.4,1226.5L681.6,1227.9L683.8,1228.0L686.0,1222.9L688.2,1206.7L690.4,1187.4L692.6,1170.6L694.8,1160.1L696.4,1157.7L699.2,1164.9L701.4,1179.2L703.6,1198.0L705.8,1216.5L708.0,1227.1L710.2,1228.8L712.4,1228.7L714.6,1228.8L716.8,1229.0L719.0,1229.3L721.2,1229.3L723.4,1229.0L725.6,1228.2L727.8,1227.2L730.0,1226.1L732.2,1221.3L734.4,1208.1L736.6,1193.7L738.8,1182.1L741.0,1175.8L742.0,1175.1L743.2,1176.1L745.4,1183.0L747.6,1194.9L749.8,1209.4L752.0,1222.4L754.2,1228.6L756.4,1229.8L758.6,1229.9L760.8,1229.9L763.0,1229.8L765.2,1229.5L767.4,1229.2L769.6,1228.9L771.8,1228.7L774.0,1228.6L776.2,1225.6L778.4,1208.5L780.6,1176.7L782.8,1144.8L785.0,1120.3L787.8,1108.0L789.4,1112.1L791.6,1130.1L793.8,1158.8L796.0,1191.7L798.2,1219.6L800.4,1226.7L802.6,1227.0L804.8,1226.2L807.0,1226.1L809.2,1226.8L811.4,1227.8L813.6,1228.7L815.8,1229.4L818.0,1229.7L820.2,1229.9L822.4,1229.9L824.6,1229.9L826.8,1229.7L829.0,1229.6L831.2,1229.3L833.4,1229.1L835.6,1228.8L837.8,1228.6L840.0,1228.5L842.2,1228.5L844.4,1228.8L846.6,1229.3L848.8,1229.7L851.0,1229.9L853.2,1230.0L855.4,1230.0L857.6,1230.0L859.8,1229.9L862.0,1229.9L864.2,1229.7L866.4,1229.6L868.6,1229.3L870.8,1229.0L873.0,1228.8L875.2,1228.8L877.4,1229.0L879.6,1229.3L881.8,1229.5L884.0,1229.6L886.2,1229.6L888.4,1229.6L890.6,1229.5L892.8,1229.5L895.0,1229.4L897.2,1229.2L899.4,1229.1L901.6,1228.8L903.8,1228.6L906.0,1228.6L908.2,1228.7L910.4,1229.0L912.6,1229.2L914.8,1229.4L917.0,1229.4L919.2,1229.3L921.4,1229.2L923.6,1229.2L925.8,1229.1L928.0,1228.8L930.2,1228.4L932.4,1227.6L934.6,1226.6L936.8,1226.1L939.0,1226.3L941.2,1227.0L943.4,1227.9L945.6,1228.6L947.8,1228.8L950.0,1228.8L952.2,1228.7L954.4,1228.7L956.6,1228.9L958.8,1229.2L961.0,1229.4L963.2,1229.5L965.4,1229.4L967.6,1229.3L969.8,1229.3L972.0,1229.4L974.2,1229.5L976.4,1229.6L978.6,1229.5L980.8,1229.3L983.0,1228.9L985.2,1228.7L987.4,1228.6L989.6,1228.8L991.8,1228.9L994.0,1229.0L996.2,1228.8L998.4,1228.6L1000.6,1228.3L1002.8,1228.0L1005.0,1227.7L1007.2,1227.4L1009.4,1227.0L1011.6,1227.0L1013.8,1227.4L1016.0,1228.1L1018.2,1228.7L1020.4,1228.9L1022.6,1228.8L1024.8,1228.6L1027.0,1228.6L1029.2,1228.8L1031.4,1229.0L1033.6,1229.2L1035.8,1229.1L1038.0,1227.8L1040.2,1221.1L1042.4,1198.8L1044.6,1172.3L1046.8,1149.3L1049.0,1134.8L1050.6,1131.5L1053.4,1141.4L1055.6,1161.1L1057.8,1186.8L1060.0,1212.3L1062.2,1227.2L1064.4,1229.8L1066.6,1229.7L1068.8,1229.6L1071.0,1229.5L1073.2,1229.4L1075.4,1229.3L1077.6,1229.3L1079.8,1229.4L1082.0,1229.4L1084.2,1229.4L1086.4,1229.5L1088.6,1229.5L1090.8,1229.5L1093.0,1229.5L1095.2,1229.6L1097.4,1229.5L1099.6,1229.5L1101.8,1229.2L1104.0,1228.5L1106.2,1227.0L1108.4,1221.9L1110.6,1199.5L1112.8,1171.3L1115.0,1146.1L1117.2,1129.7L1119.0,1125.3L1121.6,1134.4L1123.8,1154.5L1126.0,1181.5L1128.2,1209.0L1130.4,1226.0L1132.6,1229.2L1134.8,1229.1L1137.0,1228.5L1139.2,1227.3L1141.4,1225.8L1143.6,1224.6L1145.8,1224.3L1148.0,1224.6L1150.2,1224.9L1152.4,1224.8L1154.6,1224.7L1156.8,1225.1L1159.0,1226.0L1161.2,1227.0L1163.4,1227.7L1165.6,1228.0L1167.8,1228.0L1170.0,1227.7L1172.2,1227.2L1174.4,1226.6L1176.6,1226.4L1178.8,1226.7L1181.0,1227.4L1183.2,1228.1L1185.4,1228.3L1187.6,1228.1L1189.8,1227.4L1192.0,1226.7L1194.2,1224.6L1196.4,1211.9L1198.6,1194.5L1200.8,1178.7L1203.0,1168.0L1205.0,1164.6L1207.4,1168.7L1209.6,1179.1L1211.8,1193.8L1214.0,1209.9L1216.2,1213.8L1218.4,1187.7L1220.6,1153.0L1222.8,1121.7L1225.0,1100.0L1227.3,1091.8L1229.4,1097.6L1231.6,1115.2L1233.8,1141.9L1236.0,1173.4L1238.2,1201.3L1239.2,1205.6L1240.4,1204.6L1242.6,1181.8L1244.8,1157.4L1247.0,1137.3L1249.2,1124.6L1251.0,1121.3L1253.6,1130.0L1255.8,1149.4L1258.0,1175.8L1260.2,1203.6L1262.4,1223.8L1264.6,1228.4L1266.8,1228.6L1269.0,1227.9L1271.2,1226.9L1273.4,1226.1L1275.6,1225.8L1277.8,1226.2L1280.0,1226.9L1282.2,1227.6L1284.4,1228.2L1286.6,1228.7L1288.8,1229.2L1288.8,1240 L70,1240Z"/>
<path id="cbtT" d="M70.0,1227.6L72.2,1227.2L74.4,1226.9L76.6,1226.6L78.8,1226.4L81.0,1226.2L83.2,1226.3L85.4,1226.5L87.6,1226.8L89.8,1227.0L92.0,1224.7L94.2,1210.3L96.4,1189.4L98.6,1169.9L100.8,1156.2L103.0,1151.3L105.2,1156.2L107.4,1169.9L109.6,1189.4L111.8,1210.3L114.0,1223.3L116.2,1224.9L118.4,1225.8L120.6,1226.5L122.8,1226.9L125.0,1227.0L127.2,1227.0L129.4,1227.1L131.6,1227.2L133.8,1227.3L136.0,1227.5L138.2,1227.4L140.4,1227.0L142.6,1226.3L144.8,1225.7L147.0,1225.5L149.2,1225.8L151.4,1226.4L153.6,1227.0L155.8,1227.6L158.0,1228.0L160.2,1228.3L162.4,1228.4L164.6,1228.4L166.8,1228.3L169.0,1228.2L171.2,1228.2L173.4,1228.1L175.6,1228.0L177.8,1227.9L180.0,1227.8L182.2,1225.9L184.4,1214.6L186.6,1193.1L188.8,1171.3L191.0,1154.7L193.8,1146.3L195.4,1148.9L197.6,1160.4L199.8,1178.9L202.0,1200.5L204.5,1217.1L206.4,1209.9L208.6,1191.8L210.8,1175.3L213.0,1163.9L215.2,1159.8L217.4,1163.9L219.6,1175.3L221.8,1191.8L224.0,1209.9L225.9,1218.5L228.4,1206.3L230.6,1188.5L232.8,1173.1L235.0,1163.4L236.7,1161.0L239.4,1167.4L241.6,1180.8L243.8,1198.5L246.0,1216.3L248.2,1226.1L250.4,1227.8L252.6,1227.9L254.8,1227.9L257.0,1227.9L259.2,1227.9L261.4,1227.9L263.6,1228.0L265.8,1228.1L268.0,1228.2L270.2,1228.2L272.4,1228.2L274.6,1228.1L276.8,1227.9L279.0,1227.6L281.2,1227.4L283.4,1227.3L285.6,1227.4L287.8,1227.5L290.0,1227.6L292.2,1227.8L294.4,1227.9L296.6,1228.0L298.8,1228.1L301.0,1228.0L303.2,1227.9L305.4,1227.8L307.6,1227.8L309.8,1227.9L312.0,1226.0L314.2,1214.9L316.4,1193.8L318.6,1172.5L320.8,1156.2L323.6,1148.0L325.2,1150.3L327.4,1160.4L329.6,1176.8L331.8,1196.7L334.0,1215.6L335.1,1219.7L336.2,1217.5L338.4,1200.8L340.6,1182.9L342.8,1168.0L345.0,1158.6L346.7,1156.3L349.4,1163.1L351.6,1177.5L353.8,1196.5L356.0,1215.5L358.2,1226.2L360.4,1227.9L362.6,1227.5L364.8,1226.8L367.0,1226.1L369.2,1225.5L371.4,1225.6L373.6,1226.2L375.8,1227.1L378.0,1227.7L380.2,1228.1L382.4,1228.2L384.6,1228.1L386.8,1228.0L389.0,1227.7L391.2,1227.5L393.4,1227.3L395.6,1227.2L397.8,1227.1L400.0,1227.2L402.2,1227.2L404.4,1227.2L406.6,1227.1L408.8,1227.0L411.0,1226.8L413.2,1226.7L415.4,1226.7L417.6,1226.9L419.8,1227.2L422.0,1227.1L424.2,1222.6L426.4,1203.1L428.6,1178.4L430.8,1156.5L433.0,1142.2L434.8,1138.3L437.4,1146.2L439.6,1163.8L441.8,1187.4L444.0,1211.4L446.2,1225.9L448.4,1228.6L450.6,1228.5L452.8,1228.3L455.0,1228.0L457.2,1227.8L459.4,1227.7L461.6,1227.8L463.8,1227.8L466.0,1227.9L468.2,1227.9L470.4,1227.8L472.6,1227.7L474.8,1227.6L477.0,1227.4L479.2,1227.3L481.4,1227.0L483.6,1226.7L485.8,1226.4L488.0,1226.1L490.2,1226.1L492.4,1226.5L494.6,1227.1L496.8,1227.6L499.0,1227.8L501.2,1227.8L503.4,1227.6L505.6,1227.5L507.8,1227.7L510.0,1227.9L512.2,1228.2L514.4,1228.2L516.6,1228.0L518.8,1227.7L521.0,1227.5L523.2,1227.4L525.4,1227.5L527.6,1227.7L529.8,1228.0L532.0,1228.1L534.2,1227.9L536.4,1227.5L538.6,1226.8L540.8,1226.0L543.0,1225.7L545.2,1226.1L547.4,1226.9L549.6,1227.6L551.8,1228.1L554.0,1228.1L556.2,1225.6L558.4,1213.2L560.6,1194.0L562.8,1175.6L565.0,1162.3L567.4,1156.9L569.4,1160.7L571.6,1172.7L573.8,1190.5L576.0,1209.9L578.2,1224.5L580.4,1227.9L582.6,1228.0L584.8,1227.9L587.0,1227.8L589.2,1227.9L591.4,1228.1L593.6,1228.2L595.8,1226.8L598.0,1218.3L600.2,1196.9L602.4,1174.0L604.6,1155.7L607.6,1145.6L609.0,1146.9L611.2,1154.2L613.4,1167.0L615.6,1183.5L617.8,1201.4L620.0,1217.7L622.2,1225.9L624.4,1226.5L626.6,1225.6L628.8,1224.8L631.0,1224.6L633.2,1225.2L635.4,1226.2L637.6,1227.2L639.8,1227.9L642.0,1228.3L644.2,1228.4L646.4,1228.5L648.6,1228.5L650.8,1228.3L653.0,1228.0L655.2,1227.6L657.4,1227.1L659.6,1226.6L661.8,1226.0L664.0,1224.4L666.2,1212.6L668.4,1194.5L670.6,1177.5L672.8,1165.6L675.0,1161.3L677.2,1165.6L679.4,1177.5L681.6,1194.5L683.8,1212.6L686.0,1224.9L688.2,1226.9L690.4,1227.4L692.6,1227.5L694.8,1227.6L697.0,1227.5L699.2,1227.5L701.4,1227.5L703.6,1227.5L705.8,1227.2L708.0,1226.8L710.2,1226.3L712.4,1226.1L714.6,1226.3L716.8,1226.7L719.0,1227.2L721.2,1227.5L723.4,1227.6L725.6,1227.6L727.8,1227.5L730.0,1227.4L732.2,1227.5L734.4,1227.5L736.6,1227.6L738.8,1227.7L741.0,1227.9L743.2,1228.1L745.4,1228.2L747.6,1228.3L749.8,1228.2L752.0,1227.4L754.2,1223.0L756.4,1211.0L758.6,1197.3L760.8,1185.9L763.0,1179.1L764.3,1178.0L765.2,1178.5L767.4,1184.2L769.6,1195.0L771.8,1208.5L774.0,1221.2L776.2,1226.8L778.4,1227.7L780.6,1227.8L782.8,1228.0L785.0,1228.0L787.2,1227.9L789.4,1227.4L791.6,1226.8L793.8,1226.2L796.0,1225.9L798.2,1226.1L800.4,1226.6L802.6,1227.2L804.8,1227.6L807.0,1227.9L809.2,1228.1L811.4,1228.0L813.6,1227.8L815.8,1227.5L818.0,1226.4L820.2,1219.8L822.4,1200.9L824.6,1179.8L826.8,1162.4L829.0,1152.4L830.2,1150.9L831.2,1151.8L833.4,1159.5L835.6,1173.9L837.8,1192.5L840.0,1211.5L841.8,1219.3L844.4,1205.1L846.6,1186.6L848.8,1170.2L851.0,1158.8L853.3,1154.5L855.4,1158.8L857.6,1171.6L859.8,1190.1L862.0,1210.2L864.2,1224.6L866.4,1227.6L868.6,1228.0L870.8,1228.2L873.0,1228.3L875.2,1228.4L877.4,1228.2L879.6,1228.1L881.8,1227.9L884.0,1227.8L886.2,1227.7L888.4,1227.6L890.6,1227.5L892.8,1227.4L895.0,1227.4L897.2,1227.4L899.4,1227.5L901.6,1227.7L903.8,1228.0L906.0,1228.1L908.2,1228.0L910.4,1227.7L912.6,1227.0L914.8,1226.0L917.0,1224.8L919.2,1223.7L921.4,1223.3L923.6,1223.8L925.8,1224.8L928.0,1226.0L930.2,1226.9L932.4,1227.6L934.6,1228.0L936.8,1228.2L939.0,1228.2L941.2,1228.0L943.4,1227.7L945.6,1227.5L947.8,1227.4L950.0,1227.5L952.2,1227.4L954.4,1227.3L956.6,1227.1L958.8,1227.0L961.0,1226.9L963.2,1227.0L965.4,1227.1L967.6,1227.1L969.8,1227.2L972.0,1227.3L974.2,1226.6L976.4,1220.8L978.6,1199.8L980.8,1175.2L983.0,1154.0L985.2,1141.0L986.7,1138.3L989.6,1148.1L991.8,1166.8L994.0,1190.8L996.2,1214.3L998.4,1224.9L1000.6,1226.2L1002.8,1226.5L1005.0,1226.9L1007.2,1227.0L1009.4,1227.0L1011.6,1226.7L1013.8,1226.2L1016.0,1225.7L1018.2,1223.7L1020.4,1207.4L1022.6,1183.1L1024.8,1160.3L1027.0,1144.4L1029.2,1138.7L1031.4,1144.4L1033.6,1160.3L1035.8,1183.1L1038.0,1207.4L1040.2,1224.3L1042.4,1226.9L1044.6,1227.0L1046.8,1227.0L1049.0,1227.0L1051.2,1227.0L1053.4,1227.0L1055.6,1227.0L1057.8,1227.0L1060.0,1226.9L1062.2,1225.9L1064.4,1219.2L1066.6,1203.5L1068.8,1187.1L1071.0,1174.1L1074.0,1167.0L1075.4,1168.3L1077.6,1175.4L1079.8,1187.4L1082.0,1202.3L1084.2,1216.8L1085.5,1219.7L1086.4,1217.7L1088.6,1202.8L1090.8,1186.2L1093.0,1172.3L1095.2,1163.4L1097.0,1161.0L1099.6,1166.9L1101.8,1180.1L1104.0,1197.7L1106.2,1215.6L1108.4,1225.8L1110.6,1227.3L1112.8,1227.2L1115.0,1227.2L1117.2,1227.2L1119.4,1227.2L1121.6,1227.3L1123.8,1227.4L1126.0,1227.5L1128.2,1227.4L1130.4,1225.3L1132.6,1215.3L1134.8,1201.6L1137.0,1189.1L1139.2,1180.6L1141.2,1178.0L1143.6,1181.8L1145.8,1191.2L1148.0,1204.1L1150.2,1217.6L1152.4,1226.3L1154.6,1227.9L1156.8,1227.7L1159.0,1227.6L1161.2,1227.5L1163.4,1227.6L1165.6,1227.9L1167.8,1228.1L1170.0,1228.3L1172.2,1228.4L1174.4,1228.3L1176.6,1228.2L1178.8,1228.0L1181.0,1227.9L1183.2,1227.8L1185.4,1227.7L1187.6,1227.7L1189.8,1227.7L1192.0,1227.8L1194.2,1228.0L1196.4,1228.1L1198.6,1228.3L1200.8,1228.4L1203.0,1228.5L1205.2,1228.4L1207.4,1228.2L1209.6,1227.8L1211.8,1227.2L1214.0,1226.6L1216.2,1226.3L1218.4,1226.4L1220.6,1226.8L1222.8,1227.2L1225.0,1227.5L1227.2,1227.6L1229.4,1227.7L1231.6,1227.6L1233.8,1227.6L1236.0,1227.5L1238.2,1227.3L1240.4,1227.2L1242.6,1227.1L1244.8,1227.1L1247.0,1227.1L1249.2,1227.1L1251.4,1227.3L1253.6,1227.5L1255.8,1227.8L1258.0,1227.9L1260.2,1227.8L1262.4,1227.6L1264.6,1227.4L1266.8,1227.3L1269.0,1227.4L1271.2,1227.5L1273.4,1227.6L1275.6,1227.7L1277.8,1227.7L1280.0,1227.6L1282.2,1227.7L1284.4,1227.9L1286.6,1228.1L1288.8,1228.3L1288.8,1240 L70,1240Z"/>
</defs>
<g stroke="none" fill-opacity="0.64">
<use href="#cbtA" fill="#dcf5dc"/>
<use href="#cbtC" fill="#dee5f8"/>
<use href="#cbtG" fill="#d5d5d5"/>
<use href="#cbtT" fill="#fcdedc"/>
</g>
<g fill="none" stroke-width="2.6" stroke-linejoin="round">
<use href="#cbtA" stroke="#2fc52f"/>
<use href="#cbtC" stroke="#3b66d8"/>
<use href="#cbtG" stroke="#0a0a0a"/>
<use href="#cbtT" stroke="#ee3a32"/>
</g></g>
<rect x="110" y="1231" width="1135" height="1.9" fill="#b4b4b4"/>
</svg>
</body></html>
